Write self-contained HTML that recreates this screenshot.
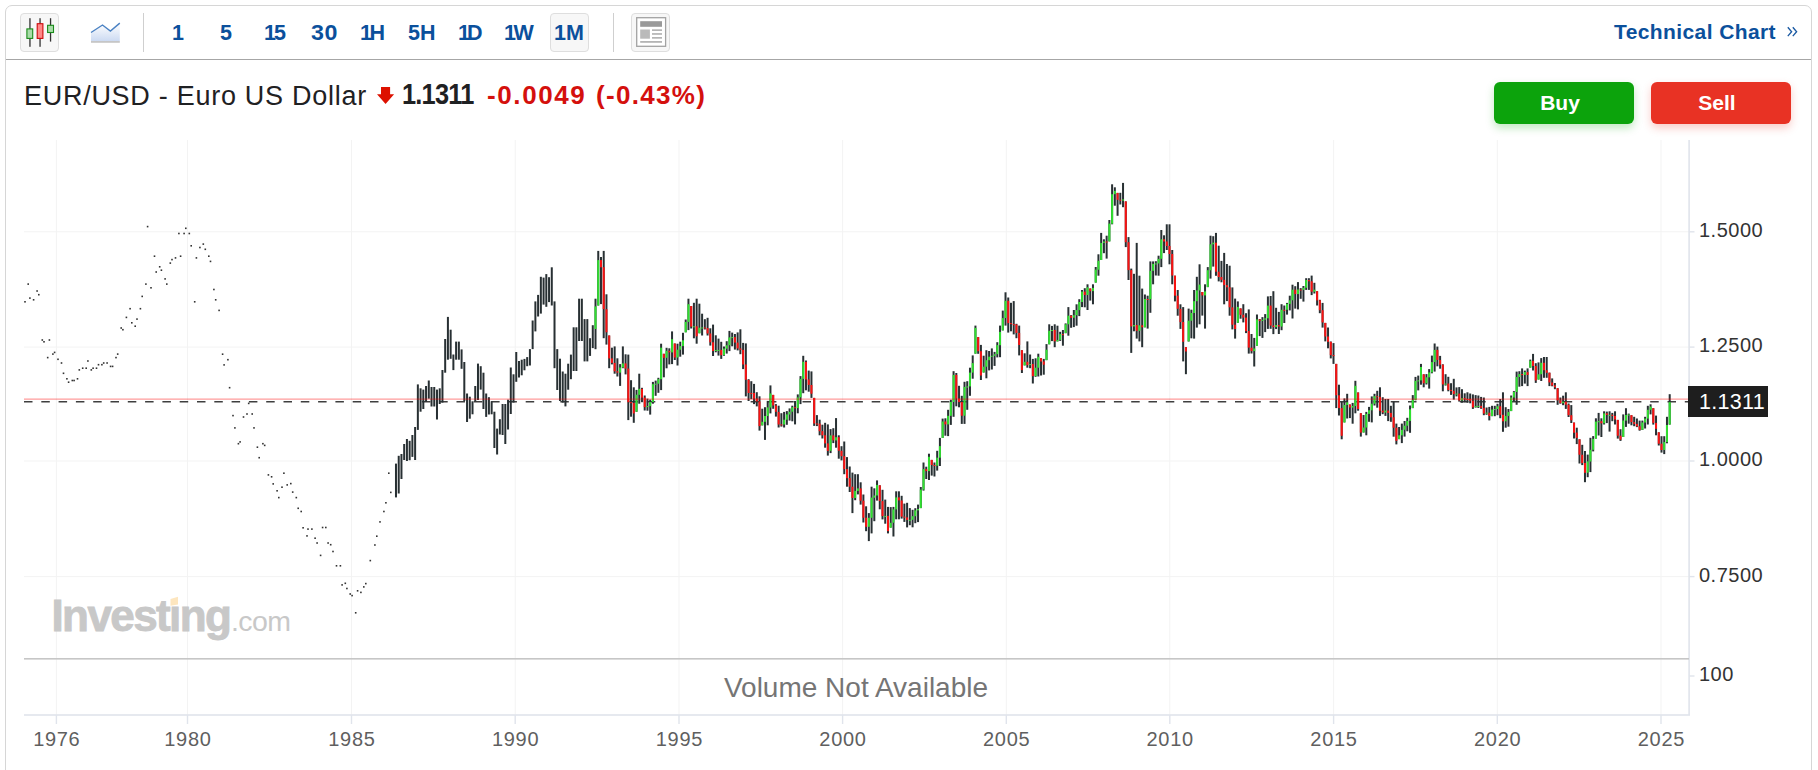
<!DOCTYPE html>
<html><head><meta charset="utf-8">
<style>
html,body{margin:0;padding:0;background:#fff;width:1818px;height:770px;overflow:hidden;font-family:"Liberation Sans",sans-serif;}
.abs{position:absolute;}
#frame{position:absolute;left:5px;top:5px;width:1807px;height:800px;border:1px solid #d6d6d6;border-radius:7px;box-sizing:border-box;}
#tbline{position:absolute;left:6px;top:59px;width:1805px;height:1px;background:#a6a6a6;}
.btn{position:absolute;top:13px;width:38.5px;height:39px;box-sizing:border-box;border:1px solid #dedede;border-radius:4px;background:#f7f7f7;}
.sep{position:absolute;top:13px;width:1px;height:39px;background:#cfcfcf;}
.tf{position:absolute;top:19px;font-weight:bold;font-size:21.5px;line-height:28px;color:#0b509c;letter-spacing:0px;}
#title{position:absolute;left:24px;top:79px;font-size:27px;line-height:34px;color:#1f2123;white-space:nowrap;letter-spacing:0.72px;}
#price{position:absolute;left:402px;top:77px;font-size:29.5px;line-height:34px;font-weight:bold;color:#1f2123;white-space:nowrap;letter-spacing:-0.9px;transform:scaleX(0.86);transform-origin:0 0;}
#chg{position:absolute;left:487px;top:78px;font-size:26px;line-height:34px;font-weight:bold;color:#d4100d;white-space:nowrap;letter-spacing:1.6px;}
#pct{position:absolute;left:596px;top:78px;font-size:26px;line-height:34px;font-weight:bold;color:#d4100d;white-space:nowrap;letter-spacing:1.3px;}
.tbtn{position:absolute;top:82px;width:140px;height:42px;box-sizing:border-box;padding-right:8px;border-radius:6px;color:#fff;font-weight:bold;font-size:21px;line-height:42px;text-align:center;}
#buy{left:1494px;background:#0ca30c;box-shadow:0 4px 8px rgba(12,163,12,0.25);}
#sell{left:1651px;background:#e83224;box-shadow:0 4px 8px rgba(232,50,36,0.25);}
#tech{position:absolute;left:1614px;top:18px;font-size:21px;line-height:28px;font-weight:bold;color:#0b509c;white-space:nowrap;letter-spacing:0.4px;}
svg text{font-family:"Liberation Sans",sans-serif;}
</style></head>
<body>
<div id="frame"></div>
<div id="tbline"></div>

<div class="btn" style="left:20px;">
<svg width="38" height="39" viewBox="0 0 38 39" style="position:absolute;left:-1px;top:-1px;">
 <g transform="translate(-20,-13)">
  <rect x="29.3" y="18.2" width="1.3" height="28.6" fill="#333"/>
  <rect x="26.9" y="28.9" width="5.8" height="9.5" fill="#a9dca9" stroke="#1a8c1a" stroke-width="1.1"/>
  <rect x="39.4" y="18.2" width="1.3" height="28.6" fill="#333"/>
  <rect x="37.2" y="23.7" width="5.7" height="14.7" fill="#ff8888" stroke="#cc0a0a" stroke-width="1.1"/>
  <rect x="49.9" y="18.2" width="1.3" height="23.4" fill="#333"/>
  <rect x="47.6" y="25.3" width="5.9" height="7.2" fill="#a9dca9" stroke="#1a8c1a" stroke-width="1.1"/>
 </g>
</svg>
</div>

<svg class="abs" style="left:88px;top:20px;" width="36" height="26" viewBox="88 20 36 26">
 <defs><linearGradient id="ag" x1="0" y1="0" x2="0" y2="1"><stop offset="0" stop-color="#ffffff"/><stop offset="1" stop-color="#ccdaf2"/></linearGradient></defs>
 <path d="M91 32.5 L102.5 25 L110.4 31.1 L119.8 23.1 L119.8 41.2 L91 41.2 Z" fill="url(#ag)"/>
 <path d="M91 32.5 L102.5 25 L110.4 31.1 L119.8 23.1" fill="none" stroke="#4b82c3" stroke-width="1.4"/>
 <rect x="91" y="41" width="28.8" height="1.8" fill="#c6c6c6"/>
</svg>

<div class="sep" style="left:143px;"></div>
<div class="tf" style="left:172px;">1</div>
<div class="tf" style="left:220px;">5</div>
<div class="tf" style="left:264px;letter-spacing:-2px;">15</div>
<div class="tf" style="left:311px;letter-spacing:0.5px;transform:scaleX(1.08);transform-origin:0 0;">30</div>
<div class="tf" style="left:360px;letter-spacing:-2.5px;">1H</div>
<div class="tf" style="left:408px;">5H</div>
<div class="tf" style="left:458px;letter-spacing:-3px;">1D</div>
<div class="tf" style="left:504px;letter-spacing:-2.5px;">1W</div>
<div class="btn" style="left:550px;"></div>
<div class="tf" style="left:554px;">1M</div>
<div class="sep" style="left:613px;"></div>
<div class="btn" style="left:631px;">
<svg width="38" height="39" viewBox="631 13 38 39" style="position:absolute;left:-1px;top:-1px;">
 <rect x="636.7" y="17.7" width="28.9" height="28.6" fill="#fff" stroke="#a2a2a2" stroke-width="1.3"/>
 <rect x="640.2" y="21.2" width="21.8" height="5.6" fill="#9a9a9a"/>
 <rect x="640.2" y="29.5" width="9.7" height="9.2" fill="#bababa"/>
 <rect x="652" y="29.3" width="10" height="1.7" fill="#b4b4b4"/>
 <rect x="652" y="33.1" width="10" height="1.7" fill="#b4b4b4"/>
 <rect x="652" y="37" width="10" height="1.7" fill="#b4b4b4"/>
 <rect x="640.2" y="41" width="21.8" height="1.8" fill="#b4b4b4"/>
</svg>
</div>

<div id="tech">Technical Chart</div><svg class="abs" style="left:1780px;top:20px;" width="24" height="24" viewBox="1780 20 24 24"><path d="M1787.8 27.3 L1791.6 31.7 L1787.8 36.1 M1792.8 27.3 L1796.6 31.7 L1792.8 36.1" fill="none" stroke="#1a5aa3" stroke-width="1.35"/></svg>

<div id="title">EUR/USD - Euro US Dollar</div>
<svg class="abs" style="left:376px;top:86px;" width="20" height="19" viewBox="0 0 20 19">
 <path d="M5 1 H14.1 V8.2 H18.1 L9.55 18 L1 8.2 H5 Z" fill="#dd1100"/>
</svg>
<div id="price">1.1311</div>
<div id="chg">-0.0049</div>
<div id="pct">(-0.43%)</div>

<div class="tbtn" id="buy">Buy</div>
<div class="tbtn" id="sell">Sell</div>

<svg class="abs" style="left:0;top:0;" width="1818" height="770" viewBox="0 0 1818 770">
<rect x="55.9" y="140" width="1" height="575" fill="#f3f3f3"/>
<rect x="187.0" y="140" width="1" height="575" fill="#f3f3f3"/>
<rect x="351.0" y="140" width="1" height="575" fill="#f3f3f3"/>
<rect x="514.7" y="140" width="1" height="575" fill="#f3f3f3"/>
<rect x="678.5" y="140" width="1" height="575" fill="#f3f3f3"/>
<rect x="842.1" y="140" width="1" height="575" fill="#f3f3f3"/>
<rect x="1005.8" y="140" width="1" height="575" fill="#f3f3f3"/>
<rect x="1169.3" y="140" width="1" height="575" fill="#f3f3f3"/>
<rect x="1333.1" y="140" width="1" height="575" fill="#f3f3f3"/>
<rect x="1496.8" y="140" width="1" height="575" fill="#f3f3f3"/>
<rect x="1660.5" y="140" width="1" height="575" fill="#f3f3f3"/>
<rect x="24" y="231.3" width="1665" height="1" fill="#f3f3f3"/>
<rect x="24" y="346.6" width="1665" height="1" fill="#f3f3f3"/>
<rect x="24" y="460.5" width="1665" height="1" fill="#f3f3f3"/>
<rect x="24" y="576.1" width="1665" height="1" fill="#f3f3f3"/>
<line x1="24" y1="401.7" x2="1689" y2="401.7" stroke="#3f3f3f" stroke-width="1.5" stroke-dasharray="8.5 8.8"/>
<rect x="24.2" y="301.0" width="1.6" height="1.6" fill="#333"/>
<rect x="27.4" y="283.3" width="1.6" height="1.6" fill="#333"/>
<rect x="29.1" y="297.3" width="1.6" height="1.6" fill="#333"/>
<rect x="32.8" y="299.0" width="1.6" height="1.6" fill="#333"/>
<rect x="36.3" y="290.2" width="1.6" height="1.6" fill="#333"/>
<rect x="38.0" y="293.9" width="1.6" height="1.6" fill="#333"/>
<rect x="41.5" y="339.2" width="1.6" height="1.6" fill="#333"/>
<rect x="43.2" y="341.0" width="1.6" height="1.6" fill="#333"/>
<rect x="46.9" y="356.8" width="1.6" height="1.6" fill="#333"/>
<rect x="48.6" y="339.2" width="1.6" height="1.6" fill="#333"/>
<rect x="52.1" y="353.3" width="1.6" height="1.6" fill="#333"/>
<rect x="53.8" y="351.6" width="1.6" height="1.6" fill="#333"/>
<rect x="57.2" y="358.5" width="1.6" height="1.6" fill="#333"/>
<rect x="60.7" y="362.2" width="1.6" height="1.6" fill="#333"/>
<rect x="62.7" y="372.5" width="1.6" height="1.6" fill="#333"/>
<rect x="66.1" y="378.0" width="1.6" height="1.6" fill="#333"/>
<rect x="67.8" y="381.4" width="1.6" height="1.6" fill="#333"/>
<rect x="71.5" y="379.7" width="1.6" height="1.6" fill="#333"/>
<rect x="73.3" y="379.7" width="1.6" height="1.6" fill="#333"/>
<rect x="76.7" y="378.0" width="1.6" height="1.6" fill="#333"/>
<rect x="78.5" y="369.1" width="1.6" height="1.6" fill="#333"/>
<rect x="81.9" y="367.4" width="1.6" height="1.6" fill="#333"/>
<rect x="85.4" y="367.4" width="1.6" height="1.6" fill="#333"/>
<rect x="87.1" y="360.2" width="1.6" height="1.6" fill="#333"/>
<rect x="90.5" y="369.1" width="1.6" height="1.6" fill="#333"/>
<rect x="92.3" y="367.4" width="1.6" height="1.6" fill="#333"/>
<rect x="95.7" y="367.4" width="1.6" height="1.6" fill="#333"/>
<rect x="97.7" y="363.9" width="1.6" height="1.6" fill="#333"/>
<rect x="101.1" y="363.9" width="1.6" height="1.6" fill="#333"/>
<rect x="102.9" y="362.2" width="1.6" height="1.6" fill="#333"/>
<rect x="106.3" y="362.2" width="1.6" height="1.6" fill="#333"/>
<rect x="109.8" y="365.6" width="1.6" height="1.6" fill="#333"/>
<rect x="111.8" y="365.6" width="1.6" height="1.6" fill="#333"/>
<rect x="115.2" y="356.8" width="1.6" height="1.6" fill="#333"/>
<rect x="116.9" y="353.3" width="1.6" height="1.6" fill="#333"/>
<rect x="120.4" y="327.2" width="1.6" height="1.6" fill="#333"/>
<rect x="122.1" y="328.9" width="1.6" height="1.6" fill="#333"/>
<rect x="125.6" y="316.6" width="1.6" height="1.6" fill="#333"/>
<rect x="129.3" y="307.9" width="1.6" height="1.6" fill="#333"/>
<rect x="131.0" y="322.0" width="1.6" height="1.6" fill="#333"/>
<rect x="134.4" y="325.4" width="1.6" height="1.6" fill="#333"/>
<rect x="136.2" y="318.3" width="1.6" height="1.6" fill="#333"/>
<rect x="139.6" y="307.9" width="1.6" height="1.6" fill="#333"/>
<rect x="141.4" y="295.6" width="1.6" height="1.6" fill="#333"/>
<rect x="145.1" y="283.3" width="1.6" height="1.6" fill="#333"/>
<rect x="150.2" y="287.0" width="1.6" height="1.6" fill="#333"/>
<rect x="146.8" y="225.8" width="1.6" height="1.6" fill="#333"/>
<rect x="153.7" y="255.4" width="1.6" height="1.6" fill="#333"/>
<rect x="155.4" y="271.2" width="1.6" height="1.6" fill="#333"/>
<rect x="158.9" y="266.0" width="1.6" height="1.6" fill="#333"/>
<rect x="160.6" y="269.4" width="1.6" height="1.6" fill="#333"/>
<rect x="164.3" y="278.1" width="1.6" height="1.6" fill="#333"/>
<rect x="166.0" y="283.3" width="1.6" height="1.6" fill="#333"/>
<rect x="169.5" y="262.3" width="1.6" height="1.6" fill="#333"/>
<rect x="171.2" y="258.8" width="1.6" height="1.6" fill="#333"/>
<rect x="174.7" y="257.1" width="1.6" height="1.6" fill="#333"/>
<rect x="179.8" y="255.4" width="1.6" height="1.6" fill="#333"/>
<rect x="178.1" y="232.7" width="1.6" height="1.6" fill="#333"/>
<rect x="183.3" y="232.7" width="1.6" height="1.6" fill="#333"/>
<rect x="185.0" y="227.5" width="1.6" height="1.6" fill="#333"/>
<rect x="188.5" y="232.7" width="1.6" height="1.6" fill="#333"/>
<rect x="190.4" y="245.0" width="1.6" height="1.6" fill="#333"/>
<rect x="193.9" y="301.0" width="1.6" height="1.6" fill="#333"/>
<rect x="195.6" y="257.1" width="1.6" height="1.6" fill="#333"/>
<rect x="199.1" y="246.7" width="1.6" height="1.6" fill="#333"/>
<rect x="202.5" y="243.3" width="1.6" height="1.6" fill="#333"/>
<rect x="204.5" y="248.5" width="1.6" height="1.6" fill="#333"/>
<rect x="208.0" y="255.4" width="1.6" height="1.6" fill="#333"/>
<rect x="209.7" y="260.6" width="1.6" height="1.6" fill="#333"/>
<rect x="213.1" y="288.7" width="1.6" height="1.6" fill="#333"/>
<rect x="214.9" y="299.0" width="1.6" height="1.6" fill="#333"/>
<rect x="218.3" y="309.6" width="1.6" height="1.6" fill="#333"/>
<rect x="221.8" y="353.4" width="1.6" height="1.6" fill="#333"/>
<rect x="227.1" y="358.9" width="1.6" height="1.6" fill="#333"/>
<rect x="223.3" y="364.1" width="1.6" height="1.6" fill="#333"/>
<rect x="228.8" y="386.9" width="1.6" height="1.6" fill="#333"/>
<rect x="247.9" y="402.6" width="1.6" height="1.6" fill="#333"/>
<rect x="232.2" y="414.8" width="1.6" height="1.6" fill="#333"/>
<rect x="242.7" y="416.2" width="1.6" height="1.6" fill="#333"/>
<rect x="246.2" y="413.2" width="1.6" height="1.6" fill="#333"/>
<rect x="251.4" y="413.2" width="1.6" height="1.6" fill="#333"/>
<rect x="234.1" y="427.1" width="1.6" height="1.6" fill="#333"/>
<rect x="253.2" y="427.1" width="1.6" height="1.6" fill="#333"/>
<rect x="237.6" y="442.9" width="1.6" height="1.6" fill="#333"/>
<rect x="239.3" y="441.1" width="1.6" height="1.6" fill="#333"/>
<rect x="256.6" y="446.4" width="1.6" height="1.6" fill="#333"/>
<rect x="262.1" y="442.9" width="1.6" height="1.6" fill="#333"/>
<rect x="263.9" y="444.6" width="1.6" height="1.6" fill="#333"/>
<rect x="258.4" y="456.9" width="1.6" height="1.6" fill="#333"/>
<rect x="267.6" y="474.1" width="1.6" height="1.6" fill="#333"/>
<rect x="270.8" y="476.0" width="1.6" height="1.6" fill="#333"/>
<rect x="272.4" y="483.1" width="1.6" height="1.6" fill="#333"/>
<rect x="276.3" y="490.0" width="1.6" height="1.6" fill="#333"/>
<rect x="278.0" y="496.8" width="1.6" height="1.6" fill="#333"/>
<rect x="281.2" y="486.4" width="1.6" height="1.6" fill="#333"/>
<rect x="283.1" y="472.4" width="1.6" height="1.6" fill="#333"/>
<rect x="286.4" y="484.1" width="1.6" height="1.6" fill="#333"/>
<rect x="290.0" y="482.8" width="1.6" height="1.6" fill="#333"/>
<rect x="291.9" y="491.3" width="1.6" height="1.6" fill="#333"/>
<rect x="295.5" y="496.8" width="1.6" height="1.6" fill="#333"/>
<rect x="297.4" y="507.5" width="1.6" height="1.6" fill="#333"/>
<rect x="300.4" y="510.7" width="1.6" height="1.6" fill="#333"/>
<rect x="302.3" y="527.0" width="1.6" height="1.6" fill="#333"/>
<rect x="306.2" y="535.1" width="1.6" height="1.6" fill="#333"/>
<rect x="307.2" y="528.3" width="1.6" height="1.6" fill="#333"/>
<rect x="311.1" y="528.3" width="1.6" height="1.6" fill="#333"/>
<rect x="314.3" y="537.4" width="1.6" height="1.6" fill="#333"/>
<rect x="316.3" y="542.2" width="1.6" height="1.6" fill="#333"/>
<rect x="319.8" y="554.6" width="1.6" height="1.6" fill="#333"/>
<rect x="321.8" y="526.7" width="1.6" height="1.6" fill="#333"/>
<rect x="325.0" y="526.7" width="1.6" height="1.6" fill="#333"/>
<rect x="327.3" y="542.2" width="1.6" height="1.6" fill="#333"/>
<rect x="329.9" y="543.9" width="1.6" height="1.6" fill="#333"/>
<rect x="332.2" y="550.7" width="1.6" height="1.6" fill="#333"/>
<rect x="335.7" y="565.0" width="1.6" height="1.6" fill="#333"/>
<rect x="339.6" y="565.0" width="1.6" height="1.6" fill="#333"/>
<rect x="341.3" y="584.1" width="1.6" height="1.6" fill="#333"/>
<rect x="344.5" y="582.5" width="1.6" height="1.6" fill="#333"/>
<rect x="346.1" y="587.7" width="1.6" height="1.6" fill="#333"/>
<rect x="349.4" y="593.2" width="1.6" height="1.6" fill="#333"/>
<rect x="351.3" y="594.8" width="1.6" height="1.6" fill="#333"/>
<rect x="354.9" y="612.0" width="1.6" height="1.6" fill="#333"/>
<rect x="356.8" y="590.0" width="1.6" height="1.6" fill="#333"/>
<rect x="360.1" y="591.6" width="1.6" height="1.6" fill="#333"/>
<rect x="363.0" y="586.1" width="1.6" height="1.6" fill="#333"/>
<rect x="365.0" y="582.8" width="1.6" height="1.6" fill="#333"/>
<rect x="369.5" y="559.8" width="1.6" height="1.6" fill="#333"/>
<rect x="374.1" y="544.2" width="1.6" height="1.6" fill="#333"/>
<rect x="376.0" y="535.4" width="1.6" height="1.6" fill="#333"/>
<rect x="379.2" y="521.1" width="1.6" height="1.6" fill="#333"/>
<rect x="383.1" y="510.7" width="1.6" height="1.6" fill="#333"/>
<rect x="385.1" y="502.0" width="1.6" height="1.6" fill="#333"/>
<rect x="390.0" y="491.6" width="1.6" height="1.6" fill="#333"/>
<rect x="388.0" y="472.4" width="1.6" height="1.6" fill="#333"/>
<rect x="394.98" y="463.6" width="2" height="33.8" fill="#283033"/>
<rect x="397.72" y="455.8" width="2" height="37.7" fill="#283033"/>
<rect x="400.45" y="454.0" width="2" height="25.0" fill="#283033"/>
<rect x="403.18" y="444.0" width="2" height="16.0" fill="#283033"/>
<rect x="405.92" y="439.0" width="2" height="22.0" fill="#283033"/>
<rect x="408.65" y="440.8" width="2" height="19.4" fill="#283033"/>
<rect x="411.38" y="435.0" width="2" height="21.9" fill="#283033"/>
<rect x="414.12" y="427.0" width="2" height="33.0" fill="#283033"/>
<rect x="416.85" y="384.4" width="2" height="45.5" fill="#283033"/>
<rect x="419.58" y="388.3" width="2" height="23.4" fill="#283033"/>
<rect x="422.32" y="389.6" width="2" height="19.4" fill="#283033"/>
<rect x="425.05" y="386.0" width="2" height="15.7" fill="#283033"/>
<rect x="427.78" y="380.5" width="2" height="18.2" fill="#283033"/>
<rect x="430.52" y="387.0" width="2" height="19.5" fill="#283033"/>
<rect x="433.25" y="387.0" width="2" height="19.5" fill="#283033"/>
<rect x="435.98" y="389.6" width="2" height="29.9" fill="#283033"/>
<rect x="438.72" y="388.3" width="2" height="15.7" fill="#283033"/>
<rect x="441.45" y="370.0" width="2" height="32.6" fill="#283033"/>
<rect x="444.18" y="339.0" width="2" height="33.7" fill="#283033"/>
<rect x="446.91" y="316.9" width="2" height="42.8" fill="#283033"/>
<rect x="449.65" y="329.7" width="2" height="29.1" fill="#283033"/>
<rect x="452.38" y="354.5" width="2" height="15.6" fill="#283033"/>
<rect x="455.11" y="341.6" width="2" height="18.1" fill="#283033"/>
<rect x="457.85" y="341.6" width="2" height="18.1" fill="#283033"/>
<rect x="460.58" y="349.4" width="2" height="19.4" fill="#283033"/>
<rect x="463.31" y="362.0" width="2" height="39.0" fill="#283033"/>
<rect x="466.05" y="393.5" width="2" height="28.5" fill="#283033"/>
<rect x="468.78" y="396.7" width="2" height="22.0" fill="#283033"/>
<rect x="471.51" y="401.3" width="2" height="13.0" fill="#283033"/>
<rect x="474.25" y="386.0" width="2" height="15.3" fill="#283033"/>
<rect x="476.98" y="363.6" width="2" height="36.4" fill="#283033"/>
<rect x="479.71" y="366.2" width="2" height="23.4" fill="#283033"/>
<rect x="482.45" y="372.7" width="2" height="36.3" fill="#283033"/>
<rect x="485.18" y="393.5" width="2" height="23.4" fill="#283033"/>
<rect x="487.91" y="397.2" width="2" height="17.3" fill="#283033"/>
<rect x="490.65" y="401.3" width="2" height="13.0" fill="#283033"/>
<rect x="493.38" y="411.7" width="2" height="36.3" fill="#283033"/>
<rect x="496.11" y="428.6" width="2" height="25.9" fill="#283033"/>
<rect x="498.85" y="419.2" width="2" height="15.3" fill="#283033"/>
<rect x="501.58" y="404.0" width="2" height="31.0" fill="#283033"/>
<rect x="504.31" y="404.0" width="2" height="40.0" fill="#283033"/>
<rect x="507.05" y="399.7" width="2" height="29.8" fill="#283033"/>
<rect x="509.78" y="367.5" width="2" height="46.5" fill="#283033"/>
<rect x="512.51" y="374.3" width="2" height="28.3" fill="#283033"/>
<rect x="515.25" y="352.0" width="2" height="29.8" fill="#283033"/>
<rect x="517.98" y="361.0" width="2" height="16.5" fill="#283033"/>
<rect x="520.71" y="359.7" width="2" height="15.6" fill="#283033"/>
<rect x="523.45" y="358.9" width="2" height="11.4" fill="#283033"/>
<rect x="526.18" y="357.1" width="2" height="9.1" fill="#283033"/>
<rect x="528.91" y="349.1" width="2" height="16.4" fill="#283033"/>
<rect x="531.65" y="320.5" width="2" height="28.6" fill="#283033"/>
<rect x="534.38" y="301.4" width="2" height="30.0" fill="#283033"/>
<rect x="537.11" y="294.9" width="2" height="21.6" fill="#283033"/>
<rect x="539.85" y="276.8" width="2" height="36.8" fill="#283033"/>
<rect x="542.58" y="277.6" width="2" height="27.0" fill="#283033"/>
<rect x="545.31" y="274.1" width="2" height="32.7" fill="#283033"/>
<rect x="548.05" y="277.2" width="2" height="24.9" fill="#283033"/>
<rect x="550.78" y="267.3" width="2" height="38.2" fill="#283033"/>
<rect x="553.51" y="301.4" width="2" height="66.8" fill="#283033"/>
<rect x="556.25" y="349.1" width="2" height="40.9" fill="#283033"/>
<rect x="558.98" y="358.7" width="2" height="42.3" fill="#283033"/>
<rect x="561.71" y="371.5" width="2" height="31.1" fill="#283033"/>
<rect x="564.45" y="373.7" width="2" height="32.7" fill="#283033"/>
<rect x="567.18" y="363.7" width="2" height="26.0" fill="#283033"/>
<rect x="569.91" y="354.6" width="2" height="24.6" fill="#283033"/>
<rect x="572.65" y="327.3" width="2" height="43.7" fill="#283033"/>
<rect x="575.38" y="327.3" width="2" height="43.7" fill="#283033"/>
<rect x="578.11" y="298.7" width="2" height="42.3" fill="#283033"/>
<rect x="580.85" y="298.7" width="2" height="42.3" fill="#283033"/>
<rect x="583.58" y="319.1" width="2" height="42.3" fill="#283033"/>
<rect x="586.31" y="319.1" width="2" height="42.3" fill="#283033"/>
<rect x="589.05" y="338.2" width="2" height="17.7" fill="#283033"/>
<rect x="591.78" y="325.2" width="2" height="22.9" fill="#283033"/>
<rect x="594.51" y="298.7" width="2" height="50.5" fill="#283033"/>
<rect x="594.51" y="306.4" width="2" height="22.6" fill="#30e030"/>
<rect x="597.25" y="250.9" width="2" height="54.6" fill="#283033"/>
<rect x="597.25" y="260.1" width="2" height="45.4" fill="#30e030"/>
<rect x="599.98" y="257.0" width="2" height="47.1" fill="#283033"/>
<rect x="599.98" y="260.1" width="2" height="7.2" fill="#fa1212"/>
<rect x="602.71" y="250.9" width="2" height="87.3" fill="#283033"/>
<rect x="602.71" y="267.2" width="2" height="41.9" fill="#fa1212"/>
<rect x="605.45" y="294.3" width="2" height="50.3" fill="#283033"/>
<rect x="605.45" y="309.2" width="2" height="23.1" fill="#fa1212"/>
<rect x="608.18" y="335.5" width="2" height="32.7" fill="#283033"/>
<rect x="608.18" y="335.5" width="2" height="22.9" fill="#fa1212"/>
<rect x="610.91" y="347.7" width="2" height="16.7" fill="#283033"/>
<rect x="610.91" y="358.4" width="2" height="4.5" fill="#fa1212"/>
<rect x="613.65" y="346.4" width="2" height="27.3" fill="#283033"/>
<rect x="613.65" y="362.9" width="2" height="8.4" fill="#fa1212"/>
<rect x="616.38" y="358.3" width="2" height="18.2" fill="#283033"/>
<rect x="616.38" y="371.3" width="2" height="1.3" fill="#fa1212"/>
<rect x="619.11" y="364.1" width="2" height="21.8" fill="#283033"/>
<rect x="619.11" y="367.5" width="2" height="5.1" fill="#30e030"/>
<rect x="621.85" y="346.4" width="2" height="21.8" fill="#283033"/>
<rect x="621.85" y="363.4" width="2" height="4.1" fill="#30e030"/>
<rect x="624.58" y="354.3" width="2" height="20.1" fill="#283033"/>
<rect x="624.58" y="363.4" width="2" height="5.2" fill="#fa1212"/>
<rect x="627.31" y="354.6" width="2" height="65.5" fill="#283033"/>
<rect x="627.31" y="368.6" width="2" height="33.6" fill="#fa1212"/>
<rect x="630.05" y="380.2" width="2" height="36.5" fill="#283033"/>
<rect x="630.05" y="402.2" width="2" height="1.0" fill="#fa1212"/>
<rect x="632.78" y="387.3" width="2" height="35.5" fill="#283033"/>
<rect x="632.78" y="402.9" width="2" height="10.5" fill="#fa1212"/>
<rect x="635.51" y="389.9" width="2" height="21.9" fill="#283033"/>
<rect x="635.51" y="394.7" width="2" height="17.0" fill="#30e030"/>
<rect x="638.25" y="373.7" width="2" height="30.0" fill="#283033"/>
<rect x="638.25" y="388.8" width="2" height="6.0" fill="#30e030"/>
<rect x="640.98" y="387.8" width="2" height="14.4" fill="#283033"/>
<rect x="640.98" y="388.8" width="2" height="8.9" fill="#fa1212"/>
<rect x="643.71" y="395.5" width="2" height="15.0" fill="#283033"/>
<rect x="643.71" y="397.6" width="2" height="9.5" fill="#fa1212"/>
<rect x="646.45" y="398.6" width="2" height="12.1" fill="#283033"/>
<rect x="646.45" y="406.1" width="2" height="1.0" fill="#30e030"/>
<rect x="649.18" y="399.6" width="2" height="15.0" fill="#283033"/>
<rect x="649.18" y="402.0" width="2" height="4.1" fill="#30e030"/>
<rect x="651.91" y="381.9" width="2" height="21.8" fill="#283033"/>
<rect x="651.91" y="384.2" width="2" height="17.8" fill="#30e030"/>
<rect x="654.65" y="380.6" width="2" height="15.2" fill="#283033"/>
<rect x="654.65" y="383.7" width="2" height="1.0" fill="#30e030"/>
<rect x="657.38" y="377.8" width="2" height="15.0" fill="#283033"/>
<rect x="657.38" y="379.2" width="2" height="4.5" fill="#30e030"/>
<rect x="660.11" y="343.7" width="2" height="46.4" fill="#283033"/>
<rect x="660.11" y="347.7" width="2" height="31.5" fill="#30e030"/>
<rect x="662.85" y="353.8" width="2" height="23.5" fill="#283033"/>
<rect x="662.85" y="353.8" width="2" height="4.0" fill="#fa1212"/>
<rect x="665.58" y="347.8" width="2" height="20.5" fill="#283033"/>
<rect x="665.58" y="350.8" width="2" height="7.0" fill="#30e030"/>
<rect x="668.31" y="348.3" width="2" height="16.1" fill="#283033"/>
<rect x="668.31" y="350.8" width="2" height="1.5" fill="#fa1212"/>
<rect x="671.05" y="331.4" width="2" height="32.7" fill="#283033"/>
<rect x="671.05" y="339.2" width="2" height="13.2" fill="#30e030"/>
<rect x="673.78" y="343.5" width="2" height="16.5" fill="#283033"/>
<rect x="673.78" y="343.5" width="2" height="14.0" fill="#fa1212"/>
<rect x="676.51" y="343.7" width="2" height="21.8" fill="#283033"/>
<rect x="676.51" y="349.7" width="2" height="7.8" fill="#30e030"/>
<rect x="679.25" y="341.7" width="2" height="15.0" fill="#283033"/>
<rect x="679.25" y="346.1" width="2" height="3.6" fill="#30e030"/>
<rect x="681.98" y="332.8" width="2" height="21.8" fill="#283033"/>
<rect x="681.98" y="340.3" width="2" height="5.8" fill="#30e030"/>
<rect x="684.71" y="319.5" width="2" height="12.8" fill="#283033"/>
<rect x="684.71" y="322.0" width="2" height="10.3" fill="#30e030"/>
<rect x="687.45" y="298.7" width="2" height="31.4" fill="#283033"/>
<rect x="687.45" y="304.2" width="2" height="17.7" fill="#30e030"/>
<rect x="690.18" y="306.1" width="2" height="22.4" fill="#283033"/>
<rect x="690.18" y="306.1" width="2" height="20.5" fill="#fa1212"/>
<rect x="692.91" y="302.8" width="2" height="35.5" fill="#283033"/>
<rect x="692.91" y="326.3" width="2" height="1.0" fill="#30e030"/>
<rect x="695.65" y="298.7" width="2" height="45.0" fill="#283033"/>
<rect x="695.65" y="326.3" width="2" height="10.0" fill="#fa1212"/>
<rect x="698.38" y="303.7" width="2" height="29.6" fill="#283033"/>
<rect x="698.38" y="327.7" width="2" height="5.5" fill="#30e030"/>
<rect x="701.11" y="313.7" width="2" height="21.8" fill="#283033"/>
<rect x="701.11" y="327.5" width="2" height="1.0" fill="#30e030"/>
<rect x="703.85" y="319.2" width="2" height="10.3" fill="#283033"/>
<rect x="703.85" y="327.5" width="2" height="1.0" fill="#fa1212"/>
<rect x="706.58" y="317.8" width="2" height="17.7" fill="#283033"/>
<rect x="706.58" y="328.1" width="2" height="5.4" fill="#fa1212"/>
<rect x="709.31" y="328.3" width="2" height="17.3" fill="#283033"/>
<rect x="709.31" y="333.5" width="2" height="8.8" fill="#fa1212"/>
<rect x="712.05" y="324.6" width="2" height="31.4" fill="#283033"/>
<rect x="712.05" y="342.3" width="2" height="8.7" fill="#fa1212"/>
<rect x="714.78" y="335.3" width="2" height="17.0" fill="#283033"/>
<rect x="714.78" y="350.0" width="2" height="1.0" fill="#30e030"/>
<rect x="717.51" y="338.6" width="2" height="17.0" fill="#283033"/>
<rect x="717.51" y="349.9" width="2" height="1.0" fill="#30e030"/>
<rect x="720.24" y="341.8" width="2" height="17.1" fill="#283033"/>
<rect x="720.24" y="349.9" width="2" height="5.3" fill="#fa1212"/>
<rect x="722.98" y="346.5" width="2" height="9.3" fill="#283033"/>
<rect x="722.98" y="348.6" width="2" height="6.5" fill="#30e030"/>
<rect x="725.71" y="341.2" width="2" height="12.4" fill="#283033"/>
<rect x="725.71" y="345.3" width="2" height="3.4" fill="#30e030"/>
<rect x="728.44" y="330.9" width="2" height="20.2" fill="#283033"/>
<rect x="728.44" y="337.4" width="2" height="7.8" fill="#30e030"/>
<rect x="731.18" y="332.6" width="2" height="13.7" fill="#283033"/>
<rect x="731.18" y="337.1" width="2" height="1.0" fill="#30e030"/>
<rect x="733.91" y="334.0" width="2" height="15.6" fill="#283033"/>
<rect x="733.91" y="337.1" width="2" height="5.5" fill="#fa1212"/>
<rect x="736.64" y="332.4" width="2" height="18.0" fill="#283033"/>
<rect x="736.64" y="342.6" width="2" height="5.8" fill="#fa1212"/>
<rect x="739.38" y="329.3" width="2" height="24.9" fill="#283033"/>
<rect x="739.38" y="348.4" width="2" height="1.5" fill="#fa1212"/>
<rect x="742.11" y="342.9" width="2" height="26.2" fill="#283033"/>
<rect x="742.11" y="349.9" width="2" height="14.6" fill="#fa1212"/>
<rect x="744.84" y="343.4" width="2" height="53.0" fill="#283033"/>
<rect x="744.84" y="364.5" width="2" height="15.3" fill="#fa1212"/>
<rect x="747.58" y="379.2" width="2" height="21.8" fill="#283033"/>
<rect x="747.58" y="379.9" width="2" height="13.1" fill="#fa1212"/>
<rect x="750.31" y="381.2" width="2" height="17.9" fill="#283033"/>
<rect x="750.31" y="392.9" width="2" height="1.0" fill="#fa1212"/>
<rect x="753.04" y="383.9" width="2" height="20.2" fill="#283033"/>
<rect x="753.04" y="393.0" width="2" height="5.6" fill="#fa1212"/>
<rect x="755.78" y="392.2" width="2" height="14.2" fill="#283033"/>
<rect x="755.78" y="398.6" width="2" height="2.8" fill="#fa1212"/>
<rect x="758.51" y="396.3" width="2" height="34.3" fill="#283033"/>
<rect x="758.51" y="401.4" width="2" height="24.7" fill="#fa1212"/>
<rect x="761.24" y="408.7" width="2" height="16.7" fill="#283033"/>
<rect x="761.24" y="421.8" width="2" height="3.5" fill="#30e030"/>
<rect x="763.98" y="407.2" width="2" height="32.7" fill="#283033"/>
<rect x="763.98" y="416.0" width="2" height="5.8" fill="#30e030"/>
<rect x="766.71" y="400.9" width="2" height="24.4" fill="#283033"/>
<rect x="766.71" y="407.4" width="2" height="8.6" fill="#30e030"/>
<rect x="769.44" y="385.4" width="2" height="28.0" fill="#283033"/>
<rect x="769.44" y="393.4" width="2" height="14.1" fill="#30e030"/>
<rect x="772.18" y="394.9" width="2" height="13.9" fill="#283033"/>
<rect x="772.18" y="394.9" width="2" height="10.6" fill="#fa1212"/>
<rect x="774.91" y="404.1" width="2" height="12.5" fill="#283033"/>
<rect x="774.91" y="405.5" width="2" height="6.3" fill="#fa1212"/>
<rect x="777.64" y="405.7" width="2" height="21.8" fill="#283033"/>
<rect x="777.64" y="411.9" width="2" height="12.6" fill="#fa1212"/>
<rect x="780.38" y="413.2" width="2" height="13.4" fill="#283033"/>
<rect x="780.38" y="424.4" width="2" height="1.0" fill="#fa1212"/>
<rect x="783.11" y="411.9" width="2" height="15.6" fill="#283033"/>
<rect x="783.11" y="419.7" width="2" height="4.8" fill="#30e030"/>
<rect x="785.84" y="411.1" width="2" height="13.7" fill="#283033"/>
<rect x="785.84" y="414.4" width="2" height="5.3" fill="#30e030"/>
<rect x="788.58" y="408.4" width="2" height="12.2" fill="#283033"/>
<rect x="788.58" y="411.8" width="2" height="2.7" fill="#30e030"/>
<rect x="791.31" y="405.7" width="2" height="15.6" fill="#283033"/>
<rect x="791.31" y="407.2" width="2" height="4.5" fill="#30e030"/>
<rect x="794.04" y="401.0" width="2" height="23.4" fill="#283033"/>
<rect x="794.04" y="407.2" width="2" height="1.0" fill="#fa1212"/>
<rect x="796.78" y="394.4" width="2" height="18.9" fill="#283033"/>
<rect x="796.78" y="397.4" width="2" height="10.7" fill="#30e030"/>
<rect x="799.51" y="376.1" width="2" height="28.0" fill="#283033"/>
<rect x="799.51" y="378.9" width="2" height="18.4" fill="#30e030"/>
<rect x="802.24" y="355.8" width="2" height="37.4" fill="#283033"/>
<rect x="802.24" y="361.8" width="2" height="17.1" fill="#30e030"/>
<rect x="804.98" y="360.5" width="2" height="29.8" fill="#283033"/>
<rect x="804.98" y="361.8" width="2" height="17.7" fill="#fa1212"/>
<rect x="807.71" y="370.6" width="2" height="21.1" fill="#283033"/>
<rect x="807.71" y="379.5" width="2" height="5.4" fill="#fa1212"/>
<rect x="810.44" y="371.4" width="2" height="26.5" fill="#283033"/>
<rect x="810.44" y="385.0" width="2" height="8.7" fill="#fa1212"/>
<rect x="813.18" y="397.9" width="2" height="28.0" fill="#283033"/>
<rect x="813.18" y="397.9" width="2" height="25.6" fill="#fa1212"/>
<rect x="815.91" y="415.1" width="2" height="11.0" fill="#283033"/>
<rect x="815.91" y="423.5" width="2" height="1.0" fill="#fa1212"/>
<rect x="818.64" y="419.7" width="2" height="15.6" fill="#283033"/>
<rect x="818.64" y="423.6" width="2" height="7.6" fill="#fa1212"/>
<rect x="821.38" y="424.7" width="2" height="13.8" fill="#283033"/>
<rect x="821.38" y="431.1" width="2" height="4.2" fill="#fa1212"/>
<rect x="824.11" y="422.8" width="2" height="24.9" fill="#283033"/>
<rect x="824.11" y="435.3" width="2" height="8.1" fill="#fa1212"/>
<rect x="826.84" y="424.4" width="2" height="31.2" fill="#283033"/>
<rect x="826.84" y="443.4" width="2" height="7.5" fill="#fa1212"/>
<rect x="829.58" y="429.1" width="2" height="24.0" fill="#283033"/>
<rect x="829.58" y="435.4" width="2" height="15.4" fill="#30e030"/>
<rect x="832.31" y="428.2" width="2" height="14.9" fill="#283033"/>
<rect x="832.31" y="435.4" width="2" height="4.9" fill="#fa1212"/>
<rect x="835.04" y="418.1" width="2" height="29.6" fill="#283033"/>
<rect x="835.04" y="437.2" width="2" height="3.2" fill="#30e030"/>
<rect x="837.78" y="435.3" width="2" height="23.4" fill="#283033"/>
<rect x="837.78" y="437.2" width="2" height="13.6" fill="#fa1212"/>
<rect x="840.51" y="446.2" width="2" height="14.2" fill="#283033"/>
<rect x="840.51" y="450.8" width="2" height="5.4" fill="#fa1212"/>
<rect x="843.24" y="441.5" width="2" height="32.7" fill="#283033"/>
<rect x="843.24" y="456.2" width="2" height="12.9" fill="#fa1212"/>
<rect x="845.98" y="457.1" width="2" height="29.6" fill="#283033"/>
<rect x="845.98" y="469.1" width="2" height="9.1" fill="#fa1212"/>
<rect x="848.71" y="466.5" width="2" height="25.5" fill="#283033"/>
<rect x="848.71" y="478.1" width="2" height="8.6" fill="#fa1212"/>
<rect x="851.44" y="472.6" width="2" height="40.5" fill="#283033"/>
<rect x="851.44" y="486.7" width="2" height="11.2" fill="#fa1212"/>
<rect x="854.18" y="474.2" width="2" height="26.0" fill="#283033"/>
<rect x="854.18" y="490.9" width="2" height="7.1" fill="#30e030"/>
<rect x="856.91" y="474.2" width="2" height="20.2" fill="#283033"/>
<rect x="856.91" y="488.4" width="2" height="2.5" fill="#30e030"/>
<rect x="859.64" y="482.3" width="2" height="22.3" fill="#283033"/>
<rect x="859.64" y="488.4" width="2" height="12.3" fill="#fa1212"/>
<rect x="862.38" y="494.5" width="2" height="28.0" fill="#283033"/>
<rect x="862.38" y="500.7" width="2" height="17.0" fill="#fa1212"/>
<rect x="865.11" y="506.3" width="2" height="24.9" fill="#283033"/>
<rect x="865.11" y="517.7" width="2" height="9.1" fill="#fa1212"/>
<rect x="867.84" y="513.1" width="2" height="28.0" fill="#283033"/>
<rect x="867.84" y="517.8" width="2" height="9.0" fill="#30e030"/>
<rect x="870.58" y="486.7" width="2" height="46.7" fill="#283033"/>
<rect x="870.58" y="497.6" width="2" height="20.2" fill="#30e030"/>
<rect x="873.31" y="488.3" width="2" height="32.9" fill="#283033"/>
<rect x="873.31" y="495.5" width="2" height="2.2" fill="#30e030"/>
<rect x="876.04" y="480.4" width="2" height="20.2" fill="#283033"/>
<rect x="876.04" y="484.9" width="2" height="10.6" fill="#30e030"/>
<rect x="878.78" y="485.3" width="2" height="24.0" fill="#283033"/>
<rect x="878.78" y="485.3" width="2" height="15.7" fill="#fa1212"/>
<rect x="881.51" y="489.8" width="2" height="29.6" fill="#283033"/>
<rect x="881.51" y="501.1" width="2" height="15.0" fill="#fa1212"/>
<rect x="884.24" y="499.6" width="2" height="24.1" fill="#283033"/>
<rect x="884.24" y="515.9" width="2" height="1.0" fill="#30e030"/>
<rect x="886.98" y="506.9" width="2" height="26.5" fill="#283033"/>
<rect x="886.98" y="515.9" width="2" height="15.2" fill="#fa1212"/>
<rect x="889.71" y="507.1" width="2" height="20.5" fill="#283033"/>
<rect x="889.71" y="522.8" width="2" height="4.9" fill="#30e030"/>
<rect x="892.44" y="506.9" width="2" height="29.6" fill="#283033"/>
<rect x="892.44" y="509.4" width="2" height="13.3" fill="#30e030"/>
<rect x="895.18" y="491.3" width="2" height="28.0" fill="#283033"/>
<rect x="895.18" y="497.4" width="2" height="12.0" fill="#30e030"/>
<rect x="897.91" y="491.3" width="2" height="28.0" fill="#283033"/>
<rect x="897.91" y="497.4" width="2" height="3.0" fill="#fa1212"/>
<rect x="900.64" y="495.8" width="2" height="22.8" fill="#283033"/>
<rect x="900.64" y="500.5" width="2" height="16.1" fill="#fa1212"/>
<rect x="903.38" y="503.6" width="2" height="18.3" fill="#283033"/>
<rect x="903.38" y="516.6" width="2" height="1.0" fill="#fa1212"/>
<rect x="906.11" y="502.8" width="2" height="24.6" fill="#283033"/>
<rect x="906.11" y="517.4" width="2" height="2.6" fill="#fa1212"/>
<rect x="908.84" y="508.1" width="2" height="17.1" fill="#283033"/>
<rect x="908.84" y="519.8" width="2" height="1.0" fill="#30e030"/>
<rect x="911.58" y="509.8" width="2" height="17.5" fill="#283033"/>
<rect x="911.58" y="516.2" width="2" height="3.6" fill="#30e030"/>
<rect x="914.31" y="508.2" width="2" height="15.0" fill="#283033"/>
<rect x="914.31" y="510.4" width="2" height="5.8" fill="#30e030"/>
<rect x="917.04" y="504.6" width="2" height="17.5" fill="#283033"/>
<rect x="917.04" y="509.0" width="2" height="1.4" fill="#30e030"/>
<rect x="919.78" y="487.0" width="2" height="21.1" fill="#283033"/>
<rect x="919.78" y="489.6" width="2" height="18.5" fill="#30e030"/>
<rect x="922.51" y="462.5" width="2" height="28.1" fill="#283033"/>
<rect x="922.51" y="469.1" width="2" height="20.5" fill="#30e030"/>
<rect x="925.24" y="466.7" width="2" height="12.3" fill="#283033"/>
<rect x="925.24" y="469.1" width="2" height="2.0" fill="#fa1212"/>
<rect x="927.98" y="453.7" width="2" height="26.3" fill="#283033"/>
<rect x="927.98" y="456.8" width="2" height="14.3" fill="#30e030"/>
<rect x="930.71" y="459.9" width="2" height="15.7" fill="#283033"/>
<rect x="930.71" y="459.9" width="2" height="5.1" fill="#fa1212"/>
<rect x="933.44" y="462.5" width="2" height="14.0" fill="#283033"/>
<rect x="933.44" y="465.0" width="2" height="1.0" fill="#fa1212"/>
<rect x="936.18" y="450.8" width="2" height="19.8" fill="#283033"/>
<rect x="936.18" y="457.7" width="2" height="8.0" fill="#30e030"/>
<rect x="938.91" y="437.9" width="2" height="28.1" fill="#283033"/>
<rect x="938.91" y="446.1" width="2" height="11.6" fill="#30e030"/>
<rect x="941.64" y="418.6" width="2" height="19.3" fill="#283033"/>
<rect x="941.64" y="421.5" width="2" height="16.4" fill="#30e030"/>
<rect x="944.38" y="418.3" width="2" height="17.4" fill="#283033"/>
<rect x="944.38" y="421.5" width="2" height="2.9" fill="#fa1212"/>
<rect x="947.11" y="409.8" width="2" height="26.3" fill="#283033"/>
<rect x="947.11" y="415.8" width="2" height="8.6" fill="#30e030"/>
<rect x="949.84" y="399.8" width="2" height="25.1" fill="#283033"/>
<rect x="949.84" y="402.0" width="2" height="13.8" fill="#30e030"/>
<rect x="952.58" y="371.2" width="2" height="45.6" fill="#283033"/>
<rect x="952.58" y="374.9" width="2" height="27.1" fill="#30e030"/>
<rect x="955.31" y="373.0" width="2" height="33.3" fill="#283033"/>
<rect x="955.31" y="374.9" width="2" height="23.6" fill="#fa1212"/>
<rect x="958.04" y="385.8" width="2" height="21.5" fill="#283033"/>
<rect x="958.04" y="398.6" width="2" height="3.5" fill="#fa1212"/>
<rect x="960.78" y="395.8" width="2" height="28.1" fill="#283033"/>
<rect x="960.78" y="402.0" width="2" height="13.7" fill="#fa1212"/>
<rect x="963.51" y="381.8" width="2" height="42.1" fill="#283033"/>
<rect x="963.51" y="386.9" width="2" height="28.8" fill="#30e030"/>
<rect x="966.24" y="381.2" width="2" height="28.6" fill="#283033"/>
<rect x="966.24" y="386.5" width="2" height="1.0" fill="#30e030"/>
<rect x="968.98" y="367.7" width="2" height="28.1" fill="#283033"/>
<rect x="968.98" y="372.6" width="2" height="13.8" fill="#30e030"/>
<rect x="971.71" y="355.4" width="2" height="23.3" fill="#283033"/>
<rect x="971.71" y="363.1" width="2" height="9.5" fill="#30e030"/>
<rect x="974.44" y="325.6" width="2" height="28.1" fill="#283033"/>
<rect x="974.44" y="327.9" width="2" height="25.8" fill="#30e030"/>
<rect x="977.18" y="337.1" width="2" height="16.7" fill="#283033"/>
<rect x="977.18" y="337.1" width="2" height="14.1" fill="#fa1212"/>
<rect x="979.91" y="344.9" width="2" height="35.1" fill="#283033"/>
<rect x="979.91" y="351.2" width="2" height="24.3" fill="#fa1212"/>
<rect x="982.64" y="355.7" width="2" height="16.8" fill="#283033"/>
<rect x="982.64" y="366.7" width="2" height="5.8" fill="#30e030"/>
<rect x="985.38" y="350.2" width="2" height="28.1" fill="#283033"/>
<rect x="985.38" y="360.2" width="2" height="6.5" fill="#30e030"/>
<rect x="988.11" y="351.0" width="2" height="19.4" fill="#283033"/>
<rect x="988.11" y="356.7" width="2" height="3.5" fill="#30e030"/>
<rect x="990.84" y="348.4" width="2" height="21.1" fill="#283033"/>
<rect x="990.84" y="355.8" width="2" height="1.0" fill="#30e030"/>
<rect x="993.57" y="351.9" width="2" height="14.0" fill="#283033"/>
<rect x="993.57" y="354.3" width="2" height="1.5" fill="#30e030"/>
<rect x="996.31" y="342.2" width="2" height="15.2" fill="#283033"/>
<rect x="996.31" y="345.1" width="2" height="9.1" fill="#30e030"/>
<rect x="999.04" y="325.6" width="2" height="31.6" fill="#283033"/>
<rect x="999.04" y="331.9" width="2" height="13.3" fill="#30e030"/>
<rect x="1001.77" y="310.6" width="2" height="19.8" fill="#283033"/>
<rect x="1001.77" y="318.1" width="2" height="12.3" fill="#30e030"/>
<rect x="1004.51" y="292.3" width="2" height="33.3" fill="#283033"/>
<rect x="1004.51" y="300.8" width="2" height="17.2" fill="#30e030"/>
<rect x="1007.24" y="297.5" width="2" height="35.1" fill="#283033"/>
<rect x="1007.24" y="300.8" width="2" height="22.3" fill="#fa1212"/>
<rect x="1009.97" y="302.8" width="2" height="28.5" fill="#283033"/>
<rect x="1009.97" y="323.1" width="2" height="1.0" fill="#fa1212"/>
<rect x="1012.71" y="301.1" width="2" height="33.3" fill="#283033"/>
<rect x="1012.71" y="324.1" width="2" height="1.0" fill="#fa1212"/>
<rect x="1015.44" y="323.8" width="2" height="14.4" fill="#283033"/>
<rect x="1015.44" y="324.5" width="2" height="8.4" fill="#fa1212"/>
<rect x="1018.17" y="325.6" width="2" height="29.8" fill="#283033"/>
<rect x="1018.17" y="332.9" width="2" height="12.1" fill="#fa1212"/>
<rect x="1020.91" y="350.2" width="2" height="22.8" fill="#283033"/>
<rect x="1020.91" y="350.2" width="2" height="19.9" fill="#fa1212"/>
<rect x="1023.64" y="353.3" width="2" height="12.1" fill="#283033"/>
<rect x="1023.64" y="361.8" width="2" height="3.6" fill="#30e030"/>
<rect x="1026.37" y="341.4" width="2" height="26.3" fill="#283033"/>
<rect x="1026.37" y="361.8" width="2" height="3.3" fill="#fa1212"/>
<rect x="1029.11" y="354.5" width="2" height="13.7" fill="#283033"/>
<rect x="1029.11" y="364.0" width="2" height="1.1" fill="#30e030"/>
<rect x="1031.84" y="358.9" width="2" height="24.6" fill="#283033"/>
<rect x="1031.84" y="364.0" width="2" height="12.2" fill="#fa1212"/>
<rect x="1034.57" y="358.3" width="2" height="18.5" fill="#283033"/>
<rect x="1034.57" y="367.7" width="2" height="8.4" fill="#30e030"/>
<rect x="1037.31" y="353.7" width="2" height="22.8" fill="#283033"/>
<rect x="1037.31" y="356.8" width="2" height="10.9" fill="#30e030"/>
<rect x="1040.04" y="358.2" width="2" height="17.3" fill="#283033"/>
<rect x="1040.04" y="358.2" width="2" height="3.3" fill="#fa1212"/>
<rect x="1042.77" y="358.9" width="2" height="15.8" fill="#283033"/>
<rect x="1042.77" y="361.5" width="2" height="3.2" fill="#fa1212"/>
<rect x="1045.51" y="344.1" width="2" height="16.0" fill="#283033"/>
<rect x="1045.51" y="349.7" width="2" height="10.5" fill="#30e030"/>
<rect x="1048.24" y="324.3" width="2" height="20.0" fill="#283033"/>
<rect x="1048.24" y="330.8" width="2" height="13.5" fill="#30e030"/>
<rect x="1050.97" y="325.9" width="2" height="15.2" fill="#283033"/>
<rect x="1050.97" y="330.0" width="2" height="1.0" fill="#30e030"/>
<rect x="1053.71" y="324.3" width="2" height="22.9" fill="#283033"/>
<rect x="1053.71" y="330.0" width="2" height="11.3" fill="#fa1212"/>
<rect x="1056.44" y="325.7" width="2" height="15.7" fill="#283033"/>
<rect x="1056.44" y="339.9" width="2" height="1.5" fill="#30e030"/>
<rect x="1059.17" y="331.8" width="2" height="9.1" fill="#283033"/>
<rect x="1059.17" y="334.1" width="2" height="5.8" fill="#30e030"/>
<rect x="1061.91" y="330.0" width="2" height="15.7" fill="#283033"/>
<rect x="1061.91" y="334.1" width="2" height="1.0" fill="#fa1212"/>
<rect x="1064.64" y="323.4" width="2" height="9.8" fill="#283033"/>
<rect x="1064.64" y="324.3" width="2" height="8.8" fill="#30e030"/>
<rect x="1067.37" y="307.1" width="2" height="28.6" fill="#283033"/>
<rect x="1067.37" y="315.7" width="2" height="8.6" fill="#30e030"/>
<rect x="1070.11" y="315.1" width="2" height="12.7" fill="#283033"/>
<rect x="1070.11" y="315.7" width="2" height="2.1" fill="#fa1212"/>
<rect x="1072.84" y="310.0" width="2" height="17.1" fill="#283033"/>
<rect x="1072.84" y="315.2" width="2" height="2.5" fill="#30e030"/>
<rect x="1075.57" y="304.3" width="2" height="21.4" fill="#283033"/>
<rect x="1075.57" y="310.1" width="2" height="5.1" fill="#30e030"/>
<rect x="1078.31" y="299.2" width="2" height="16.9" fill="#283033"/>
<rect x="1078.31" y="302.0" width="2" height="8.1" fill="#30e030"/>
<rect x="1081.04" y="290.0" width="2" height="17.1" fill="#283033"/>
<rect x="1081.04" y="291.6" width="2" height="10.4" fill="#30e030"/>
<rect x="1083.77" y="288.2" width="2" height="19.1" fill="#283033"/>
<rect x="1083.77" y="291.6" width="2" height="3.4" fill="#fa1212"/>
<rect x="1086.51" y="284.3" width="2" height="25.7" fill="#283033"/>
<rect x="1086.51" y="287.3" width="2" height="7.7" fill="#30e030"/>
<rect x="1089.24" y="288.5" width="2" height="12.1" fill="#283033"/>
<rect x="1089.24" y="288.5" width="2" height="2.7" fill="#fa1212"/>
<rect x="1091.97" y="284.3" width="2" height="20.0" fill="#283033"/>
<rect x="1091.97" y="287.9" width="2" height="3.2" fill="#30e030"/>
<rect x="1094.71" y="267.0" width="2" height="15.6" fill="#283033"/>
<rect x="1094.71" y="269.6" width="2" height="13.0" fill="#30e030"/>
<rect x="1097.44" y="254.3" width="2" height="21.4" fill="#283033"/>
<rect x="1097.44" y="260.8" width="2" height="8.9" fill="#30e030"/>
<rect x="1100.17" y="232.9" width="2" height="27.1" fill="#283033"/>
<rect x="1100.17" y="243.0" width="2" height="17.0" fill="#30e030"/>
<rect x="1102.91" y="239.3" width="2" height="13.9" fill="#283033"/>
<rect x="1102.91" y="241.5" width="2" height="1.4" fill="#30e030"/>
<rect x="1105.64" y="235.7" width="2" height="22.9" fill="#283033"/>
<rect x="1105.64" y="241.5" width="2" height="1.0" fill="#fa1212"/>
<rect x="1108.37" y="220.0" width="2" height="21.4" fill="#283033"/>
<rect x="1108.37" y="223.6" width="2" height="17.8" fill="#30e030"/>
<rect x="1111.11" y="184.3" width="2" height="40.0" fill="#283033"/>
<rect x="1111.11" y="194.2" width="2" height="29.5" fill="#30e030"/>
<rect x="1113.84" y="187.3" width="2" height="18.4" fill="#283033"/>
<rect x="1113.84" y="190.9" width="2" height="3.3" fill="#30e030"/>
<rect x="1116.57" y="192.9" width="2" height="22.9" fill="#283033"/>
<rect x="1116.57" y="192.9" width="2" height="6.9" fill="#fa1212"/>
<rect x="1119.31" y="192.8" width="2" height="11.7" fill="#283033"/>
<rect x="1119.31" y="199.7" width="2" height="1.0" fill="#fa1212"/>
<rect x="1122.04" y="182.9" width="2" height="24.3" fill="#283033"/>
<rect x="1122.04" y="199.4" width="2" height="1.2" fill="#30e030"/>
<rect x="1124.77" y="201.4" width="2" height="45.7" fill="#283033"/>
<rect x="1124.77" y="201.4" width="2" height="40.8" fill="#fa1212"/>
<rect x="1127.51" y="237.1" width="2" height="42.9" fill="#283033"/>
<rect x="1127.51" y="242.2" width="2" height="27.9" fill="#fa1212"/>
<rect x="1130.24" y="268.6" width="2" height="84.3" fill="#283033"/>
<rect x="1130.24" y="270.1" width="2" height="56.3" fill="#fa1212"/>
<rect x="1132.97" y="273.8" width="2" height="57.5" fill="#283033"/>
<rect x="1132.97" y="325.1" width="2" height="1.3" fill="#30e030"/>
<rect x="1135.71" y="242.9" width="2" height="95.7" fill="#283033"/>
<rect x="1135.71" y="325.1" width="2" height="5.7" fill="#fa1212"/>
<rect x="1138.44" y="275.7" width="2" height="65.7" fill="#283033"/>
<rect x="1138.44" y="325.3" width="2" height="5.5" fill="#30e030"/>
<rect x="1141.17" y="288.6" width="2" height="58.6" fill="#283033"/>
<rect x="1141.17" y="325.3" width="2" height="2.0" fill="#fa1212"/>
<rect x="1143.91" y="294.5" width="2" height="32.8" fill="#283033"/>
<rect x="1143.91" y="299.0" width="2" height="28.3" fill="#30e030"/>
<rect x="1146.64" y="295.7" width="2" height="32.9" fill="#283033"/>
<rect x="1146.64" y="299.0" width="2" height="1.0" fill="#fa1212"/>
<rect x="1149.37" y="261.4" width="2" height="51.4" fill="#283033"/>
<rect x="1149.37" y="270.8" width="2" height="28.4" fill="#30e030"/>
<rect x="1152.11" y="261.4" width="2" height="22.9" fill="#283033"/>
<rect x="1152.11" y="263.9" width="2" height="6.9" fill="#30e030"/>
<rect x="1154.84" y="261.2" width="2" height="14.3" fill="#283033"/>
<rect x="1154.84" y="263.4" width="2" height="1.0" fill="#30e030"/>
<rect x="1157.57" y="255.7" width="2" height="20.0" fill="#283033"/>
<rect x="1157.57" y="258.9" width="2" height="4.5" fill="#30e030"/>
<rect x="1160.31" y="230.0" width="2" height="37.1" fill="#283033"/>
<rect x="1160.31" y="239.3" width="2" height="19.5" fill="#30e030"/>
<rect x="1163.04" y="235.3" width="2" height="17.8" fill="#283033"/>
<rect x="1163.04" y="239.3" width="2" height="2.2" fill="#fa1212"/>
<rect x="1165.77" y="224.3" width="2" height="25.7" fill="#283033"/>
<rect x="1165.77" y="241.5" width="2" height="4.5" fill="#fa1212"/>
<rect x="1168.51" y="224.3" width="2" height="40.0" fill="#283033"/>
<rect x="1168.51" y="246.0" width="2" height="8.0" fill="#fa1212"/>
<rect x="1171.24" y="250.0" width="2" height="34.3" fill="#283033"/>
<rect x="1171.24" y="254.0" width="2" height="21.5" fill="#fa1212"/>
<rect x="1173.97" y="275.7" width="2" height="25.7" fill="#283033"/>
<rect x="1173.97" y="275.7" width="2" height="20.0" fill="#fa1212"/>
<rect x="1176.71" y="290.0" width="2" height="25.7" fill="#283033"/>
<rect x="1176.71" y="295.7" width="2" height="13.1" fill="#fa1212"/>
<rect x="1179.44" y="304.3" width="2" height="24.6" fill="#283033"/>
<rect x="1179.44" y="308.9" width="2" height="13.2" fill="#fa1212"/>
<rect x="1182.17" y="307.1" width="2" height="54.3" fill="#283033"/>
<rect x="1182.17" y="322.0" width="2" height="19.8" fill="#fa1212"/>
<rect x="1184.91" y="347.1" width="2" height="27.1" fill="#283033"/>
<rect x="1184.91" y="347.1" width="2" height="4.4" fill="#fa1212"/>
<rect x="1187.64" y="308.6" width="2" height="32.9" fill="#283033"/>
<rect x="1187.64" y="320.7" width="2" height="20.7" fill="#30e030"/>
<rect x="1190.37" y="309.7" width="2" height="28.6" fill="#283033"/>
<rect x="1190.37" y="313.0" width="2" height="7.7" fill="#30e030"/>
<rect x="1193.11" y="290.0" width="2" height="48.6" fill="#283033"/>
<rect x="1193.11" y="301.2" width="2" height="11.8" fill="#30e030"/>
<rect x="1195.84" y="276.8" width="2" height="50.8" fill="#283033"/>
<rect x="1195.84" y="290.4" width="2" height="10.8" fill="#30e030"/>
<rect x="1198.57" y="264.3" width="2" height="60.0" fill="#283033"/>
<rect x="1198.57" y="284.6" width="2" height="5.8" fill="#30e030"/>
<rect x="1201.31" y="292.0" width="2" height="23.6" fill="#283033"/>
<rect x="1201.31" y="292.0" width="2" height="3.4" fill="#fa1212"/>
<rect x="1204.04" y="284.3" width="2" height="44.3" fill="#283033"/>
<rect x="1204.04" y="291.4" width="2" height="4.0" fill="#30e030"/>
<rect x="1206.77" y="267.1" width="2" height="20.0" fill="#283033"/>
<rect x="1206.77" y="270.2" width="2" height="16.9" fill="#30e030"/>
<rect x="1209.51" y="235.7" width="2" height="42.9" fill="#283033"/>
<rect x="1209.51" y="244.3" width="2" height="26.0" fill="#30e030"/>
<rect x="1212.24" y="236.2" width="2" height="30.4" fill="#283033"/>
<rect x="1212.24" y="242.7" width="2" height="1.6" fill="#30e030"/>
<rect x="1214.97" y="232.9" width="2" height="42.9" fill="#283033"/>
<rect x="1214.97" y="242.7" width="2" height="29.0" fill="#fa1212"/>
<rect x="1217.71" y="245.7" width="2" height="35.7" fill="#283033"/>
<rect x="1217.71" y="271.7" width="2" height="5.3" fill="#fa1212"/>
<rect x="1220.44" y="260.9" width="2" height="21.4" fill="#283033"/>
<rect x="1220.44" y="277.0" width="2" height="2.8" fill="#fa1212"/>
<rect x="1223.17" y="252.9" width="2" height="51.4" fill="#283033"/>
<rect x="1223.17" y="279.8" width="2" height="5.3" fill="#fa1212"/>
<rect x="1225.91" y="264.0" width="2" height="37.1" fill="#283033"/>
<rect x="1225.91" y="285.1" width="2" height="2.2" fill="#fa1212"/>
<rect x="1228.64" y="265.7" width="2" height="50.0" fill="#283033"/>
<rect x="1228.64" y="287.3" width="2" height="20.0" fill="#fa1212"/>
<rect x="1231.37" y="287.4" width="2" height="42.0" fill="#283033"/>
<rect x="1231.37" y="307.4" width="2" height="17.3" fill="#fa1212"/>
<rect x="1234.11" y="298.6" width="2" height="40.0" fill="#283033"/>
<rect x="1234.11" y="324.7" width="2" height="4.3" fill="#fa1212"/>
<rect x="1236.84" y="301.4" width="2" height="21.4" fill="#283033"/>
<rect x="1236.84" y="306.9" width="2" height="15.9" fill="#30e030"/>
<rect x="1239.57" y="308.4" width="2" height="10.3" fill="#283033"/>
<rect x="1239.57" y="308.4" width="2" height="6.4" fill="#fa1212"/>
<rect x="1242.31" y="304.2" width="2" height="18.2" fill="#283033"/>
<rect x="1242.31" y="314.8" width="2" height="2.8" fill="#fa1212"/>
<rect x="1245.04" y="313.2" width="2" height="19.9" fill="#283033"/>
<rect x="1245.04" y="317.6" width="2" height="13.5" fill="#fa1212"/>
<rect x="1247.77" y="309.4" width="2" height="44.2" fill="#283033"/>
<rect x="1247.77" y="331.0" width="2" height="16.6" fill="#fa1212"/>
<rect x="1250.51" y="334.0" width="2" height="19.5" fill="#283033"/>
<rect x="1250.51" y="347.7" width="2" height="3.4" fill="#fa1212"/>
<rect x="1253.24" y="337.9" width="2" height="28.6" fill="#283033"/>
<rect x="1253.24" y="348.5" width="2" height="2.6" fill="#30e030"/>
<rect x="1255.97" y="314.5" width="2" height="31.2" fill="#283033"/>
<rect x="1255.97" y="319.4" width="2" height="26.4" fill="#30e030"/>
<rect x="1258.70" y="319.0" width="2" height="17.1" fill="#283033"/>
<rect x="1258.70" y="319.4" width="2" height="1.5" fill="#fa1212"/>
<rect x="1261.44" y="317.1" width="2" height="20.8" fill="#283033"/>
<rect x="1261.44" y="319.8" width="2" height="1.1" fill="#30e030"/>
<rect x="1264.17" y="314.1" width="2" height="18.0" fill="#283033"/>
<rect x="1264.17" y="318.3" width="2" height="1.4" fill="#30e030"/>
<rect x="1266.90" y="296.4" width="2" height="32.5" fill="#283033"/>
<rect x="1266.90" y="305.6" width="2" height="12.7" fill="#30e030"/>
<rect x="1269.64" y="296.0" width="2" height="32.8" fill="#283033"/>
<rect x="1269.64" y="305.6" width="2" height="19.9" fill="#fa1212"/>
<rect x="1272.37" y="291.2" width="2" height="42.9" fill="#283033"/>
<rect x="1272.37" y="325.6" width="2" height="1.5" fill="#fa1212"/>
<rect x="1275.10" y="307.8" width="2" height="21.3" fill="#283033"/>
<rect x="1275.10" y="325.1" width="2" height="1.9" fill="#30e030"/>
<rect x="1277.84" y="311.9" width="2" height="22.1" fill="#283033"/>
<rect x="1277.84" y="325.1" width="2" height="1.4" fill="#fa1212"/>
<rect x="1280.57" y="304.2" width="2" height="26.0" fill="#283033"/>
<rect x="1280.57" y="309.8" width="2" height="16.7" fill="#30e030"/>
<rect x="1283.30" y="305.5" width="2" height="17.5" fill="#283033"/>
<rect x="1283.30" y="309.8" width="2" height="1.0" fill="#fa1212"/>
<rect x="1286.04" y="302.9" width="2" height="11.7" fill="#283033"/>
<rect x="1286.04" y="303.9" width="2" height="5.9" fill="#30e030"/>
<rect x="1288.77" y="295.7" width="2" height="14.7" fill="#283033"/>
<rect x="1288.77" y="300.3" width="2" height="3.6" fill="#30e030"/>
<rect x="1291.50" y="284.7" width="2" height="33.8" fill="#283033"/>
<rect x="1291.50" y="289.7" width="2" height="10.6" fill="#30e030"/>
<rect x="1294.24" y="286.2" width="2" height="22.4" fill="#283033"/>
<rect x="1294.24" y="289.7" width="2" height="4.4" fill="#fa1212"/>
<rect x="1296.97" y="282.1" width="2" height="27.3" fill="#283033"/>
<rect x="1296.97" y="289.5" width="2" height="4.6" fill="#30e030"/>
<rect x="1299.70" y="288.1" width="2" height="10.7" fill="#283033"/>
<rect x="1299.70" y="289.5" width="2" height="1.0" fill="#fa1212"/>
<rect x="1302.44" y="286.0" width="2" height="15.6" fill="#283033"/>
<rect x="1302.44" y="287.8" width="2" height="2.1" fill="#30e030"/>
<rect x="1305.17" y="278.2" width="2" height="11.7" fill="#283033"/>
<rect x="1305.17" y="280.0" width="2" height="7.8" fill="#30e030"/>
<rect x="1307.90" y="278.2" width="2" height="11.7" fill="#283033"/>
<rect x="1307.90" y="280.0" width="2" height="1.3" fill="#fa1212"/>
<rect x="1310.64" y="275.6" width="2" height="19.5" fill="#283033"/>
<rect x="1310.64" y="281.3" width="2" height="10.4" fill="#fa1212"/>
<rect x="1313.37" y="282.8" width="2" height="10.7" fill="#283033"/>
<rect x="1313.37" y="289.7" width="2" height="2.0" fill="#30e030"/>
<rect x="1316.10" y="291.2" width="2" height="14.3" fill="#283033"/>
<rect x="1316.10" y="291.2" width="2" height="9.2" fill="#fa1212"/>
<rect x="1318.84" y="299.8" width="2" height="13.4" fill="#283033"/>
<rect x="1318.84" y="300.3" width="2" height="9.9" fill="#fa1212"/>
<rect x="1321.57" y="302.9" width="2" height="24.7" fill="#283033"/>
<rect x="1321.57" y="310.2" width="2" height="12.2" fill="#fa1212"/>
<rect x="1324.30" y="322.9" width="2" height="18.5" fill="#283033"/>
<rect x="1324.30" y="322.9" width="2" height="13.6" fill="#fa1212"/>
<rect x="1327.04" y="327.5" width="2" height="20.8" fill="#283033"/>
<rect x="1327.04" y="336.5" width="2" height="5.3" fill="#fa1212"/>
<rect x="1329.77" y="341.5" width="2" height="16.9" fill="#283033"/>
<rect x="1329.77" y="341.8" width="2" height="13.3" fill="#fa1212"/>
<rect x="1332.50" y="343.1" width="2" height="20.8" fill="#283033"/>
<rect x="1332.50" y="355.1" width="2" height="1.0" fill="#fa1212"/>
<rect x="1335.24" y="363.9" width="2" height="44.2" fill="#283033"/>
<rect x="1335.24" y="363.9" width="2" height="31.4" fill="#fa1212"/>
<rect x="1337.97" y="384.7" width="2" height="30.8" fill="#283033"/>
<rect x="1337.97" y="395.3" width="2" height="12.8" fill="#fa1212"/>
<rect x="1340.70" y="401.6" width="2" height="37.7" fill="#283033"/>
<rect x="1340.70" y="408.1" width="2" height="27.7" fill="#fa1212"/>
<rect x="1343.44" y="398.4" width="2" height="24.0" fill="#283033"/>
<rect x="1343.44" y="405.0" width="2" height="17.5" fill="#30e030"/>
<rect x="1346.17" y="393.8" width="2" height="24.7" fill="#283033"/>
<rect x="1346.17" y="402.3" width="2" height="2.7" fill="#30e030"/>
<rect x="1348.90" y="404.5" width="2" height="13.6" fill="#283033"/>
<rect x="1348.90" y="404.5" width="2" height="3.0" fill="#fa1212"/>
<rect x="1351.64" y="402.9" width="2" height="20.8" fill="#283033"/>
<rect x="1351.64" y="406.0" width="2" height="1.6" fill="#30e030"/>
<rect x="1354.37" y="380.8" width="2" height="32.5" fill="#283033"/>
<rect x="1354.37" y="385.8" width="2" height="20.2" fill="#30e030"/>
<rect x="1357.10" y="392.5" width="2" height="18.2" fill="#283033"/>
<rect x="1357.10" y="392.5" width="2" height="16.5" fill="#fa1212"/>
<rect x="1359.84" y="413.2" width="2" height="23.4" fill="#283033"/>
<rect x="1359.84" y="413.2" width="2" height="19.4" fill="#fa1212"/>
<rect x="1362.57" y="415.0" width="2" height="17.5" fill="#283033"/>
<rect x="1362.57" y="427.5" width="2" height="5.0" fill="#30e030"/>
<rect x="1365.30" y="411.9" width="2" height="23.4" fill="#283033"/>
<rect x="1365.30" y="414.0" width="2" height="13.5" fill="#30e030"/>
<rect x="1368.04" y="406.9" width="2" height="14.9" fill="#283033"/>
<rect x="1368.04" y="410.3" width="2" height="3.6" fill="#30e030"/>
<rect x="1370.77" y="396.4" width="2" height="26.0" fill="#283033"/>
<rect x="1370.77" y="403.7" width="2" height="6.6" fill="#30e030"/>
<rect x="1373.50" y="393.8" width="2" height="11.7" fill="#283033"/>
<rect x="1373.50" y="396.2" width="2" height="7.5" fill="#30e030"/>
<rect x="1376.24" y="390.8" width="2" height="16.9" fill="#283033"/>
<rect x="1376.24" y="396.2" width="2" height="1.0" fill="#fa1212"/>
<rect x="1378.97" y="387.3" width="2" height="28.6" fill="#283033"/>
<rect x="1378.97" y="396.8" width="2" height="13.9" fill="#fa1212"/>
<rect x="1381.70" y="397.2" width="2" height="17.0" fill="#283033"/>
<rect x="1381.70" y="410.7" width="2" height="1.7" fill="#fa1212"/>
<rect x="1384.44" y="399.0" width="2" height="16.9" fill="#283033"/>
<rect x="1384.44" y="410.6" width="2" height="1.9" fill="#30e030"/>
<rect x="1387.17" y="399.0" width="2" height="22.1" fill="#283033"/>
<rect x="1387.17" y="410.6" width="2" height="2.3" fill="#fa1212"/>
<rect x="1389.90" y="405.8" width="2" height="16.0" fill="#283033"/>
<rect x="1389.90" y="412.9" width="2" height="4.4" fill="#fa1212"/>
<rect x="1392.64" y="401.6" width="2" height="35.1" fill="#283033"/>
<rect x="1392.64" y="417.3" width="2" height="10.4" fill="#fa1212"/>
<rect x="1395.37" y="423.6" width="2" height="20.8" fill="#283033"/>
<rect x="1395.37" y="427.7" width="2" height="13.1" fill="#fa1212"/>
<rect x="1398.10" y="427.0" width="2" height="12.1" fill="#283033"/>
<rect x="1398.10" y="435.3" width="2" height="3.9" fill="#30e030"/>
<rect x="1400.84" y="423.6" width="2" height="19.5" fill="#283033"/>
<rect x="1400.84" y="429.9" width="2" height="5.4" fill="#30e030"/>
<rect x="1403.57" y="421.0" width="2" height="15.6" fill="#283033"/>
<rect x="1403.57" y="425.7" width="2" height="4.1" fill="#30e030"/>
<rect x="1406.30" y="417.8" width="2" height="13.5" fill="#283033"/>
<rect x="1406.30" y="420.9" width="2" height="4.8" fill="#30e030"/>
<rect x="1409.04" y="405.5" width="2" height="27.3" fill="#283033"/>
<rect x="1409.04" y="409.3" width="2" height="11.6" fill="#30e030"/>
<rect x="1411.77" y="395.1" width="2" height="13.0" fill="#283033"/>
<rect x="1411.77" y="399.9" width="2" height="8.2" fill="#30e030"/>
<rect x="1414.50" y="376.9" width="2" height="23.4" fill="#283033"/>
<rect x="1414.50" y="380.9" width="2" height="18.9" fill="#30e030"/>
<rect x="1417.24" y="375.6" width="2" height="14.8" fill="#283033"/>
<rect x="1417.24" y="380.4" width="2" height="1.0" fill="#30e030"/>
<rect x="1419.97" y="363.9" width="2" height="20.8" fill="#283033"/>
<rect x="1419.97" y="367.0" width="2" height="13.4" fill="#30e030"/>
<rect x="1422.70" y="374.3" width="2" height="13.0" fill="#283033"/>
<rect x="1422.70" y="374.3" width="2" height="8.9" fill="#fa1212"/>
<rect x="1425.44" y="374.1" width="2" height="10.4" fill="#283033"/>
<rect x="1425.44" y="377.3" width="2" height="5.9" fill="#30e030"/>
<rect x="1428.17" y="369.1" width="2" height="19.5" fill="#283033"/>
<rect x="1428.17" y="372.4" width="2" height="4.9" fill="#30e030"/>
<rect x="1430.90" y="355.6" width="2" height="17.7" fill="#283033"/>
<rect x="1430.90" y="362.1" width="2" height="10.3" fill="#30e030"/>
<rect x="1433.64" y="343.5" width="2" height="28.1" fill="#283033"/>
<rect x="1433.64" y="349.9" width="2" height="12.1" fill="#30e030"/>
<rect x="1436.37" y="346.6" width="2" height="19.7" fill="#283033"/>
<rect x="1436.37" y="349.9" width="2" height="10.0" fill="#fa1212"/>
<rect x="1439.10" y="355.9" width="2" height="12.8" fill="#283033"/>
<rect x="1439.10" y="360.0" width="2" height="4.7" fill="#fa1212"/>
<rect x="1441.84" y="364.3" width="2" height="27.0" fill="#283033"/>
<rect x="1441.84" y="364.7" width="2" height="19.7" fill="#fa1212"/>
<rect x="1444.57" y="374.2" width="2" height="11.4" fill="#283033"/>
<rect x="1444.57" y="383.6" width="2" height="1.0" fill="#30e030"/>
<rect x="1447.30" y="376.8" width="2" height="14.5" fill="#283033"/>
<rect x="1447.30" y="383.6" width="2" height="6.4" fill="#fa1212"/>
<rect x="1450.04" y="383.2" width="2" height="11.7" fill="#283033"/>
<rect x="1450.04" y="389.9" width="2" height="1.0" fill="#fa1212"/>
<rect x="1452.77" y="378.8" width="2" height="20.8" fill="#283033"/>
<rect x="1452.77" y="390.9" width="2" height="3.2" fill="#fa1212"/>
<rect x="1455.50" y="387.4" width="2" height="9.0" fill="#283033"/>
<rect x="1455.50" y="393.6" width="2" height="1.0" fill="#30e030"/>
<rect x="1458.24" y="387.1" width="2" height="14.5" fill="#283033"/>
<rect x="1458.24" y="393.6" width="2" height="6.8" fill="#fa1212"/>
<rect x="1460.97" y="389.2" width="2" height="13.5" fill="#283033"/>
<rect x="1460.97" y="398.2" width="2" height="2.2" fill="#30e030"/>
<rect x="1463.70" y="393.3" width="2" height="8.9" fill="#283033"/>
<rect x="1463.70" y="398.2" width="2" height="1.0" fill="#fa1212"/>
<rect x="1466.44" y="392.3" width="2" height="10.4" fill="#283033"/>
<rect x="1466.44" y="399.0" width="2" height="1.0" fill="#fa1212"/>
<rect x="1469.17" y="393.5" width="2" height="9.8" fill="#283033"/>
<rect x="1469.17" y="399.0" width="2" height="1.7" fill="#fa1212"/>
<rect x="1471.90" y="394.4" width="2" height="14.5" fill="#283033"/>
<rect x="1471.90" y="400.7" width="2" height="6.7" fill="#fa1212"/>
<rect x="1474.64" y="395.1" width="2" height="12.5" fill="#283033"/>
<rect x="1474.64" y="406.1" width="2" height="1.2" fill="#30e030"/>
<rect x="1477.37" y="395.5" width="2" height="12.5" fill="#283033"/>
<rect x="1477.37" y="405.9" width="2" height="1.0" fill="#30e030"/>
<rect x="1480.10" y="396.9" width="2" height="11.9" fill="#283033"/>
<rect x="1480.10" y="405.9" width="2" height="1.9" fill="#fa1212"/>
<rect x="1482.84" y="397.5" width="2" height="17.7" fill="#283033"/>
<rect x="1482.84" y="407.9" width="2" height="5.6" fill="#fa1212"/>
<rect x="1485.57" y="407.5" width="2" height="7.3" fill="#283033"/>
<rect x="1485.57" y="412.7" width="2" height="1.0" fill="#30e030"/>
<rect x="1488.30" y="406.9" width="2" height="13.5" fill="#283033"/>
<rect x="1488.30" y="412.7" width="2" height="3.3" fill="#fa1212"/>
<rect x="1491.04" y="405.8" width="2" height="10.4" fill="#283033"/>
<rect x="1491.04" y="409.6" width="2" height="6.4" fill="#30e030"/>
<rect x="1493.77" y="405.8" width="2" height="10.4" fill="#283033"/>
<rect x="1493.77" y="409.0" width="2" height="1.0" fill="#30e030"/>
<rect x="1496.50" y="403.8" width="2" height="11.4" fill="#283033"/>
<rect x="1496.50" y="406.3" width="2" height="2.7" fill="#30e030"/>
<rect x="1499.24" y="399.0" width="2" height="19.2" fill="#283033"/>
<rect x="1499.24" y="406.3" width="2" height="8.5" fill="#fa1212"/>
<rect x="1501.97" y="392.3" width="2" height="39.5" fill="#283033"/>
<rect x="1501.97" y="414.8" width="2" height="6.5" fill="#fa1212"/>
<rect x="1504.70" y="407.2" width="2" height="20.5" fill="#283033"/>
<rect x="1504.70" y="415.9" width="2" height="5.4" fill="#30e030"/>
<rect x="1507.44" y="409.0" width="2" height="17.7" fill="#283033"/>
<rect x="1507.44" y="412.1" width="2" height="3.8" fill="#30e030"/>
<rect x="1510.17" y="395.5" width="2" height="15.6" fill="#283033"/>
<rect x="1510.17" y="397.5" width="2" height="13.5" fill="#30e030"/>
<rect x="1512.90" y="391.1" width="2" height="10.4" fill="#283033"/>
<rect x="1512.90" y="392.0" width="2" height="5.5" fill="#30e030"/>
<rect x="1515.64" y="371.6" width="2" height="33.2" fill="#283033"/>
<rect x="1515.64" y="377.0" width="2" height="15.0" fill="#30e030"/>
<rect x="1518.37" y="371.2" width="2" height="15.5" fill="#283033"/>
<rect x="1518.37" y="374.1" width="2" height="2.9" fill="#30e030"/>
<rect x="1521.10" y="368.4" width="2" height="17.7" fill="#283033"/>
<rect x="1521.10" y="374.1" width="2" height="1.0" fill="#fa1212"/>
<rect x="1523.84" y="370.6" width="2" height="13.0" fill="#283033"/>
<rect x="1523.84" y="372.1" width="2" height="2.8" fill="#30e030"/>
<rect x="1526.57" y="368.4" width="2" height="17.7" fill="#283033"/>
<rect x="1526.57" y="372.1" width="2" height="2.9" fill="#fa1212"/>
<rect x="1529.30" y="359.6" width="2" height="8.0" fill="#283033"/>
<rect x="1529.30" y="360.8" width="2" height="6.9" fill="#30e030"/>
<rect x="1532.04" y="353.9" width="2" height="16.6" fill="#283033"/>
<rect x="1532.04" y="360.8" width="2" height="5.2" fill="#fa1212"/>
<rect x="1534.77" y="363.2" width="2" height="19.7" fill="#283033"/>
<rect x="1534.77" y="366.0" width="2" height="14.4" fill="#fa1212"/>
<rect x="1537.50" y="362.4" width="2" height="17.1" fill="#283033"/>
<rect x="1537.50" y="374.3" width="2" height="5.3" fill="#30e030"/>
<rect x="1540.23" y="358.1" width="2" height="22.9" fill="#283033"/>
<rect x="1540.23" y="362.8" width="2" height="11.4" fill="#30e030"/>
<rect x="1542.97" y="357.0" width="2" height="20.8" fill="#283033"/>
<rect x="1542.97" y="362.8" width="2" height="7.4" fill="#fa1212"/>
<rect x="1545.70" y="357.0" width="2" height="20.8" fill="#283033"/>
<rect x="1545.70" y="370.2" width="2" height="2.6" fill="#fa1212"/>
<rect x="1548.43" y="372.6" width="2" height="13.5" fill="#283033"/>
<rect x="1548.43" y="372.8" width="2" height="9.6" fill="#fa1212"/>
<rect x="1551.17" y="378.4" width="2" height="7.9" fill="#283033"/>
<rect x="1551.17" y="382.5" width="2" height="3.0" fill="#fa1212"/>
<rect x="1553.90" y="383.0" width="2" height="6.2" fill="#283033"/>
<rect x="1553.90" y="385.4" width="2" height="1.8" fill="#fa1212"/>
<rect x="1556.63" y="388.2" width="2" height="16.6" fill="#283033"/>
<rect x="1556.63" y="388.2" width="2" height="12.1" fill="#fa1212"/>
<rect x="1559.37" y="397.5" width="2" height="6.2" fill="#283033"/>
<rect x="1559.37" y="400.3" width="2" height="2.8" fill="#fa1212"/>
<rect x="1562.10" y="395.7" width="2" height="9.5" fill="#283033"/>
<rect x="1562.10" y="401.7" width="2" height="1.4" fill="#30e030"/>
<rect x="1564.83" y="392.3" width="2" height="16.6" fill="#283033"/>
<rect x="1564.83" y="401.7" width="2" height="3.0" fill="#fa1212"/>
<rect x="1567.57" y="403.5" width="2" height="13.5" fill="#283033"/>
<rect x="1567.57" y="404.7" width="2" height="10.5" fill="#fa1212"/>
<rect x="1570.30" y="405.1" width="2" height="17.9" fill="#283033"/>
<rect x="1570.30" y="415.2" width="2" height="5.1" fill="#fa1212"/>
<rect x="1573.03" y="422.6" width="2" height="15.9" fill="#283033"/>
<rect x="1573.03" y="422.6" width="2" height="10.1" fill="#fa1212"/>
<rect x="1575.77" y="427.7" width="2" height="16.4" fill="#283033"/>
<rect x="1575.77" y="432.6" width="2" height="5.3" fill="#fa1212"/>
<rect x="1578.50" y="439.3" width="2" height="24.2" fill="#283033"/>
<rect x="1578.50" y="439.3" width="2" height="15.4" fill="#fa1212"/>
<rect x="1581.23" y="444.8" width="2" height="20.3" fill="#283033"/>
<rect x="1581.23" y="454.8" width="2" height="8.2" fill="#fa1212"/>
<rect x="1583.97" y="451.0" width="2" height="31.2" fill="#283033"/>
<rect x="1583.97" y="463.0" width="2" height="9.8" fill="#fa1212"/>
<rect x="1586.70" y="454.6" width="2" height="22.6" fill="#283033"/>
<rect x="1586.70" y="461.4" width="2" height="11.3" fill="#30e030"/>
<rect x="1589.43" y="437.8" width="2" height="34.3" fill="#283033"/>
<rect x="1589.43" y="449.8" width="2" height="11.7" fill="#30e030"/>
<rect x="1592.17" y="436.1" width="2" height="15.3" fill="#283033"/>
<rect x="1592.17" y="438.9" width="2" height="10.9" fill="#30e030"/>
<rect x="1594.90" y="418.3" width="2" height="20.3" fill="#283033"/>
<rect x="1594.90" y="421.6" width="2" height="17.0" fill="#30e030"/>
<rect x="1597.63" y="412.9" width="2" height="22.6" fill="#283033"/>
<rect x="1597.63" y="421.2" width="2" height="1.0" fill="#30e030"/>
<rect x="1600.37" y="418.3" width="2" height="18.7" fill="#283033"/>
<rect x="1600.37" y="421.2" width="2" height="2.1" fill="#fa1212"/>
<rect x="1603.10" y="411.3" width="2" height="13.2" fill="#283033"/>
<rect x="1603.10" y="413.4" width="2" height="9.9" fill="#30e030"/>
<rect x="1605.83" y="411.6" width="2" height="11.5" fill="#283033"/>
<rect x="1605.83" y="413.4" width="2" height="1.6" fill="#fa1212"/>
<rect x="1608.57" y="411.3" width="2" height="20.3" fill="#283033"/>
<rect x="1608.57" y="414.8" width="2" height="1.0" fill="#30e030"/>
<rect x="1611.30" y="412.9" width="2" height="8.3" fill="#283033"/>
<rect x="1611.30" y="414.8" width="2" height="1.1" fill="#fa1212"/>
<rect x="1614.03" y="411.3" width="2" height="13.2" fill="#283033"/>
<rect x="1614.03" y="415.9" width="2" height="3.6" fill="#fa1212"/>
<rect x="1616.77" y="419.9" width="2" height="18.7" fill="#283033"/>
<rect x="1616.77" y="419.9" width="2" height="15.8" fill="#fa1212"/>
<rect x="1619.50" y="429.2" width="2" height="11.7" fill="#283033"/>
<rect x="1619.50" y="435.7" width="2" height="4.0" fill="#fa1212"/>
<rect x="1622.23" y="414.4" width="2" height="22.6" fill="#283033"/>
<rect x="1622.23" y="420.5" width="2" height="16.5" fill="#30e030"/>
<rect x="1624.97" y="408.2" width="2" height="18.7" fill="#283033"/>
<rect x="1624.97" y="415.0" width="2" height="5.6" fill="#30e030"/>
<rect x="1627.70" y="413.6" width="2" height="10.1" fill="#283033"/>
<rect x="1627.70" y="414.5" width="2" height="1.0" fill="#30e030"/>
<rect x="1630.43" y="415.2" width="2" height="10.1" fill="#283033"/>
<rect x="1630.43" y="415.2" width="2" height="6.9" fill="#fa1212"/>
<rect x="1633.17" y="416.8" width="2" height="9.4" fill="#283033"/>
<rect x="1633.17" y="422.1" width="2" height="1.8" fill="#fa1212"/>
<rect x="1635.90" y="418.5" width="2" height="8.6" fill="#283033"/>
<rect x="1635.90" y="423.9" width="2" height="2.4" fill="#fa1212"/>
<rect x="1638.63" y="420.6" width="2" height="10.1" fill="#283033"/>
<rect x="1638.63" y="426.3" width="2" height="3.6" fill="#fa1212"/>
<rect x="1641.37" y="420.6" width="2" height="9.4" fill="#283033"/>
<rect x="1641.37" y="422.5" width="2" height="7.3" fill="#30e030"/>
<rect x="1644.10" y="416.8" width="2" height="11.7" fill="#283033"/>
<rect x="1644.10" y="418.6" width="2" height="3.9" fill="#30e030"/>
<rect x="1646.83" y="405.8" width="2" height="18.7" fill="#283033"/>
<rect x="1646.83" y="409.8" width="2" height="8.8" fill="#30e030"/>
<rect x="1649.57" y="404.3" width="2" height="10.1" fill="#283033"/>
<rect x="1649.57" y="406.6" width="2" height="3.2" fill="#30e030"/>
<rect x="1652.30" y="408.2" width="2" height="16.4" fill="#283033"/>
<rect x="1652.30" y="408.2" width="2" height="14.7" fill="#fa1212"/>
<rect x="1655.03" y="415.6" width="2" height="19.7" fill="#283033"/>
<rect x="1655.03" y="422.9" width="2" height="5.9" fill="#fa1212"/>
<rect x="1657.77" y="432.3" width="2" height="13.2" fill="#283033"/>
<rect x="1657.77" y="432.3" width="2" height="11.4" fill="#fa1212"/>
<rect x="1660.50" y="436.2" width="2" height="16.4" fill="#283033"/>
<rect x="1660.50" y="443.7" width="2" height="6.3" fill="#fa1212"/>
<rect x="1663.23" y="436.2" width="2" height="17.9" fill="#283033"/>
<rect x="1663.23" y="442.1" width="2" height="7.9" fill="#30e030"/>
<rect x="1665.97" y="416.8" width="2" height="26.5" fill="#283033"/>
<rect x="1665.97" y="425.0" width="2" height="17.1" fill="#30e030"/>
<rect x="1668.70" y="394.2" width="2" height="30.4" fill="#283033"/>
<rect x="1668.70" y="402.1" width="2" height="22.4" fill="#30e030"/>
 <!-- logo -->
 <g fill="#c8c8c8">
  <text x="51.5" y="631" font-size="44" font-weight="bold" letter-spacing="-1.6" stroke="#c8c8c8" stroke-width="0.9">Invest&#305;ng</text>
  <text x="231" y="631" font-size="28.5" letter-spacing="-0.6">.com</text>
 </g>
 <path d="M170.5 599 L178 596.7 L178 604.5 L170.5 605.8 Z" fill="#fde6bf"/>
 <!-- price lines -->
 <rect x="24" y="398.4" width="1665" height="1.5" fill="#ff0000" fill-opacity="0.33"/>
 <!-- axes -->
 <rect x="1688.3" y="140" width="1.6" height="575" fill="#e0e4ec"/>
 <rect x="24" y="714.2" width="1666" height="1.6" fill="#e0e4ec"/>
 <rect x="24" y="658" width="1665" height="1.6" fill="#c6c6c6"/>
 <rect x="55.7" y="715" width="1.4" height="9" fill="#e0e4ec"/>
 <text x="56.8" y="745.6" font-size="20" fill="#5f5f5f" text-anchor="middle" letter-spacing="0.7">1976</text>
 <rect x="186.8" y="715" width="1.4" height="9" fill="#e0e4ec"/>
 <text x="187.9" y="745.6" font-size="20" fill="#5f5f5f" text-anchor="middle" letter-spacing="0.7">1980</text>
 <rect x="350.8" y="715" width="1.4" height="9" fill="#e0e4ec"/>
 <text x="351.9" y="745.6" font-size="20" fill="#5f5f5f" text-anchor="middle" letter-spacing="0.7">1985</text>
 <rect x="514.5" y="715" width="1.4" height="9" fill="#e0e4ec"/>
 <text x="515.6" y="745.6" font-size="20" fill="#5f5f5f" text-anchor="middle" letter-spacing="0.7">1990</text>
 <rect x="678.3" y="715" width="1.4" height="9" fill="#e0e4ec"/>
 <text x="679.4" y="745.6" font-size="20" fill="#5f5f5f" text-anchor="middle" letter-spacing="0.7">1995</text>
 <rect x="841.9" y="715" width="1.4" height="9" fill="#e0e4ec"/>
 <text x="843.0" y="745.6" font-size="20" fill="#5f5f5f" text-anchor="middle" letter-spacing="0.7">2000</text>
 <rect x="1005.6" y="715" width="1.4" height="9" fill="#e0e4ec"/>
 <text x="1006.7" y="745.6" font-size="20" fill="#5f5f5f" text-anchor="middle" letter-spacing="0.7">2005</text>
 <rect x="1169.1" y="715" width="1.4" height="9" fill="#e0e4ec"/>
 <text x="1170.2" y="745.6" font-size="20" fill="#5f5f5f" text-anchor="middle" letter-spacing="0.7">2010</text>
 <rect x="1332.9" y="715" width="1.4" height="9" fill="#e0e4ec"/>
 <text x="1334.0" y="745.6" font-size="20" fill="#5f5f5f" text-anchor="middle" letter-spacing="0.7">2015</text>
 <rect x="1496.6" y="715" width="1.4" height="9" fill="#e0e4ec"/>
 <text x="1497.7" y="745.6" font-size="20" fill="#5f5f5f" text-anchor="middle" letter-spacing="0.7">2020</text>
 <rect x="1660.3" y="715" width="1.4" height="9" fill="#e0e4ec"/>
 <text x="1661.4" y="745.6" font-size="20" fill="#5f5f5f" text-anchor="middle" letter-spacing="0.7">2025</text>
 <rect x="1689" y="231.1" width="5.5" height="1.4" fill="#e0e4ec"/>
 <text x="1699" y="236.8" font-size="20" fill="#333" letter-spacing="0.5">1.5000</text>
 <rect x="1689" y="346.4" width="5.5" height="1.4" fill="#e0e4ec"/>
 <text x="1699" y="352.1" font-size="20" fill="#333" letter-spacing="0.5">1.2500</text>
 <rect x="1689" y="460.3" width="5.5" height="1.4" fill="#e0e4ec"/>
 <text x="1699" y="466.0" font-size="20" fill="#333" letter-spacing="0.5">1.0000</text>
 <rect x="1689" y="575.9" width="5.5" height="1.4" fill="#e0e4ec"/>
 <text x="1699" y="581.6" font-size="20" fill="#333" letter-spacing="0.5">0.7500</text>
 <rect x="1689" y="675.3" width="5.5" height="1.4" fill="#e0e4ec"/>
 <text x="1699" y="681.0" font-size="20" fill="#333" letter-spacing="0.5">100</text>
 <!-- price label -->
 <rect x="1688" y="386" width="80" height="31" fill="#1e1e1e"/>
 <text x="1699" y="408.6" font-size="21.5" fill="#fff" letter-spacing="0.3">1.1311</text>
 <text x="856" y="697" font-size="28" fill="#757575" text-anchor="middle">Volume Not Available</text>
</svg>
</body></html>
